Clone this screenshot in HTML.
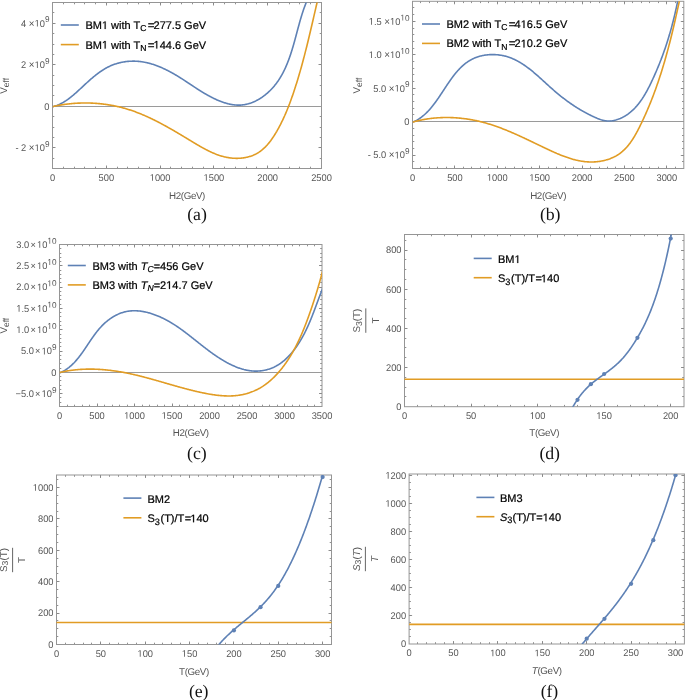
<!DOCTYPE html>
<html><head><meta charset="utf-8"><style>
html,body{margin:0;padding:0;background:#fff;}
body{width:685px;height:700px;overflow:hidden;}
svg{display:block;will-change:transform;}
text{text-rendering:geometricPrecision;}
.tl{font-family:"Liberation Sans",sans-serif;fill:#555555;}
.lg{font-family:"Liberation Sans",sans-serif;fill:#000;stroke:#000;stroke-width:0.22px;}
.al{font-family:"Liberation Sans",sans-serif;fill:#555555;font-size:9.8px;}
.xl{letter-spacing:-0.38px;}
.cp{font-family:"Liberation Serif",serif;fill:#111;font-size:17.8px;letter-spacing:-0.1px;}
.one{fill-opacity:0;stroke-opacity:0;}
</style></head><body>
<svg width="685" height="700" viewBox="0 0 685 700">
<defs>
<clipPath id="ca"><rect x="52.5" y="2.5" width="269" height="166"/></clipPath>
<clipPath id="cb"><rect x="412.5" y="1.3" width="271.3" height="167.2"/></clipPath>
<clipPath id="cc"><rect x="59.5" y="244.5" width="262.5" height="162"/></clipPath>
<clipPath id="cd"><rect x="404.5" y="234.5" width="279.5" height="172.2"/></clipPath>
<clipPath id="ce"><rect x="56.5" y="475" width="275" height="169.5"/></clipPath>
<clipPath id="cf"><rect x="409.1" y="474" width="275.3" height="170"/></clipPath>
</defs>
<path d="M63.5,168.5v-1.8 M63.5,2.5v1.8 M74.5,168.5v-1.8 M74.5,2.5v1.8 M84.5,168.5v-1.8 M84.5,2.5v1.8 M95.5,168.5v-1.8 M95.5,2.5v1.8 M106.5,168.5v-1.8 M106.5,2.5v1.8 M117.5,168.5v-1.8 M117.5,2.5v1.8 M127.5,168.5v-1.8 M127.5,2.5v1.8 M138.5,168.5v-1.8 M138.5,2.5v1.8 M149.5,168.5v-1.8 M149.5,2.5v1.8 M160.5,168.5v-1.8 M160.5,2.5v1.8 M170.5,168.5v-1.8 M170.5,2.5v1.8 M181.5,168.5v-1.8 M181.5,2.5v1.8 M192.5,168.5v-1.8 M192.5,2.5v1.8 M203.5,168.5v-1.8 M203.5,2.5v1.8 M213.5,168.5v-1.8 M213.5,2.5v1.8 M224.5,168.5v-1.8 M224.5,2.5v1.8 M235.5,168.5v-1.8 M235.5,2.5v1.8 M246.5,168.5v-1.8 M246.5,2.5v1.8 M256.5,168.5v-1.8 M256.5,2.5v1.8 M267.5,168.5v-1.8 M267.5,2.5v1.8 M278.5,168.5v-1.8 M278.5,2.5v1.8 M289.5,168.5v-1.8 M289.5,2.5v1.8 M299.5,168.5v-1.8 M299.5,2.5v1.8 M310.5,168.5v-1.8 M310.5,2.5v1.8 M106.5,168.5v-3 M106.5,2.5v3 M160.5,168.5v-3 M160.5,2.5v3 M213.5,168.5v-3 M213.5,2.5v3 M267.5,168.5v-3 M267.5,2.5v3 M52.5,158.5h1.8 M321.5,158.5h-1.8 M52.5,147.5h1.8 M321.5,147.5h-1.8 M52.5,137.5h1.8 M321.5,137.5h-1.8 M52.5,127.5h1.8 M321.5,127.5h-1.8 M52.5,116.5h1.8 M321.5,116.5h-1.8 M52.5,106.5h1.8 M321.5,106.5h-1.8 M52.5,95.5h1.8 M321.5,95.5h-1.8 M52.5,85.5h1.8 M321.5,85.5h-1.8 M52.5,75.5h1.8 M321.5,75.5h-1.8 M52.5,64.5h1.8 M321.5,64.5h-1.8 M52.5,54.5h1.8 M321.5,54.5h-1.8 M52.5,44.5h1.8 M321.5,44.5h-1.8 M52.5,33.5h1.8 M321.5,33.5h-1.8 M52.5,23.5h1.8 M321.5,23.5h-1.8 M52.5,12.5h1.8 M321.5,12.5h-1.8 M52.5,147.5h3 M321.5,147.5h-3 M52.5,106.5h3 M321.5,106.5h-3 M52.5,64.5h3 M321.5,64.5h-3 M52.5,23.5h3 M321.5,23.5h-3" stroke="#848484" stroke-width="0.9" fill="none"/>
<rect x="52.5" y="2.5" width="269" height="166" fill="none" stroke="#959595" stroke-width="1"/>
<line x1="52.5" y1="106.5" x2="321.5" y2="106.5" stroke="#9a9a9a" stroke-width="1"/>
<g clip-path="url(#ca)" fill="none" stroke-width="1.6"><path d="M52.88,106.67 L53.55,106.5 L54.21,106.31 L54.87,106.11 L55.52,105.9 L56.16,105.68 L56.8,105.45 L57.43,105.2 L58.06,104.95 L58.68,104.69 L59.3,104.41 L59.91,104.13 L60.51,103.84 L61.11,103.54 L61.71,103.23 L62.3,102.91 L62.89,102.58 L63.47,102.25 L64.05,101.9 L64.62,101.55 L65.19,101.19 L65.75,100.83 L66.31,100.45 L66.87,100.07 L67.43,99.69 L67.98,99.29 L68.53,98.89 L69.07,98.49 L69.61,98.08 L70.15,97.66 L70.69,97.24 L71.23,96.81 L71.76,96.38 L72.29,95.94 L72.82,95.5 L73.34,95.06 L73.87,94.61 L74.39,94.16 L74.92,93.7 L75.44,93.24 L75.96,92.78 L76.48,92.31 L76.99,91.84 L77.51,91.37 L78.03,90.9 L78.55,90.43 L79.06,89.95 L79.58,89.48 L80.1,89 L80.61,88.52 L81.13,88.04 L81.65,87.56 L82.16,87.08 L82.68,86.59 L83.2,86.11 L83.72,85.63 L84.24,85.15 L84.76,84.67 L85.28,84.19 L85.8,83.7 L86.32,83.23 L86.85,82.75 L87.37,82.27 L87.9,81.79 L88.42,81.32 L88.95,80.85 L89.48,80.38 L90.01,79.91 L90.54,79.44 L91.08,78.98 L91.61,78.51 L92.15,78.06 L92.69,77.6 L93.23,77.15 L93.77,76.7 L94.31,76.25 L94.86,75.81 L95.4,75.37 L95.95,74.93 L96.51,74.5 L97.06,74.08 L97.62,73.66 L98.17,73.24 L98.74,72.83 L99.3,72.42 L99.87,72.01 L100.43,71.62 L101.01,71.23 L101.58,70.84 L102.16,70.46 L102.74,70.09 L103.32,69.72 L103.91,69.36 L104.5,69 L105.09,68.65 L105.68,68.31 L106.28,67.98 L106.88,67.65 L107.49,67.33 L108.1,67.02 L108.71,66.71 L109.33,66.42 L109.95,66.13 L110.57,65.85 L111.2,65.58 L111.83,65.31 L112.47,65.06 L113.1,64.81 L113.75,64.57 L114.39,64.34 L115.04,64.11 L115.69,63.9 L116.34,63.69 L117,63.49 L117.65,63.3 L118.31,63.12 L118.98,62.95 L119.64,62.78 L120.31,62.62 L120.98,62.47 L121.65,62.33 L122.32,62.2 L123,62.07 L123.67,61.96 L124.35,61.85 L125.03,61.74 L125.71,61.65 L126.39,61.57 L127.08,61.49 L127.76,61.42 L128.45,61.36 L129.13,61.31 L129.82,61.26 L130.5,61.23 L131.19,61.2 L131.88,61.18 L132.57,61.16 L133.26,61.16 L133.94,61.16 L134.63,61.17 L135.32,61.19 L136.01,61.22 L136.69,61.26 L137.38,61.3 L138.07,61.35 L138.75,61.41 L139.43,61.48 L140.12,61.55 L140.8,61.64 L141.48,61.73 L142.16,61.83 L142.84,61.93 L143.52,62.05 L144.2,62.17 L144.87,62.29 L145.55,62.43 L146.22,62.57 L146.9,62.72 L147.57,62.88 L148.24,63.04 L148.91,63.21 L149.57,63.39 L150.24,63.57 L150.91,63.76 L151.57,63.95 L152.23,64.15 L152.9,64.36 L153.56,64.58 L154.21,64.79 L154.87,65.02 L155.53,65.25 L156.18,65.48 L156.84,65.73 L157.49,65.97 L158.14,66.22 L158.79,66.48 L159.43,66.74 L160.08,67.01 L160.72,67.28 L161.37,67.55 L162.01,67.83 L162.65,68.12 L163.29,68.41 L163.92,68.7 L164.56,69 L165.19,69.3 L165.82,69.61 L166.45,69.92 L167.08,70.23 L167.7,70.54 L168.33,70.86 L168.95,71.19 L169.57,71.51 L170.19,71.84 L170.81,72.18 L171.42,72.51 L172.04,72.85 L172.65,73.19 L173.26,73.54 L173.86,73.88 L174.47,74.23 L175.07,74.59 L175.67,74.94 L176.27,75.3 L176.87,75.65 L177.47,76.01 L178.06,76.37 L178.65,76.74 L179.24,77.1 L179.83,77.47 L180.41,77.84 L181,78.21 L181.58,78.58 L182.16,78.95 L182.74,79.33 L183.32,79.7 L183.9,80.08 L184.48,80.45 L185.06,80.83 L185.63,81.21 L186.21,81.59 L186.78,81.97 L187.36,82.35 L187.93,82.73 L188.51,83.11 L189.08,83.5 L189.66,83.88 L190.24,84.26 L190.81,84.64 L191.39,85.03 L191.96,85.41 L192.54,85.79 L193.12,86.18 L193.7,86.56 L194.28,86.94 L194.86,87.32 L195.45,87.7 L196.03,88.09 L196.62,88.47 L197.2,88.85 L197.79,89.22 L198.38,89.6 L198.98,89.98 L199.57,90.36 L200.17,90.73 L200.77,91.11 L201.37,91.48 L201.98,91.85 L202.58,92.22 L203.19,92.59 L203.81,92.96 L204.42,93.32 L205.04,93.69 L205.66,94.05 L206.28,94.4 L206.9,94.76 L207.52,95.11 L208.15,95.46 L208.78,95.81 L209.41,96.15 L210.04,96.49 L210.68,96.83 L211.31,97.16 L211.95,97.49 L212.59,97.81 L213.23,98.13 L213.87,98.44 L214.52,98.75 L215.16,99.05 L215.81,99.35 L216.46,99.65 L217.11,99.94 L217.76,100.22 L218.41,100.49 L219.06,100.76 L219.71,101.03 L220.36,101.29 L221.02,101.54 L221.67,101.78 L222.33,102.02 L222.98,102.25 L223.64,102.47 L224.3,102.69 L224.96,102.89 L225.61,103.09 L226.27,103.28 L226.93,103.47 L227.59,103.64 L228.25,103.81 L228.91,103.96 L229.57,104.11 L230.23,104.25 L230.89,104.38 L231.55,104.5 L232.2,104.61 L232.86,104.71 L233.52,104.8 L234.18,104.88 L234.84,104.95 L235.49,105.01 L236.15,105.06 L236.8,105.09 L237.46,105.12 L238.11,105.14 L238.77,105.14 L239.42,105.13 L240.07,105.11 L240.72,105.08 L241.37,105.03 L242.02,104.98 L242.67,104.91 L243.31,104.83 L243.96,104.73 L244.6,104.63 L245.24,104.51 L245.88,104.38 L246.52,104.24 L247.16,104.09 L247.79,103.93 L248.43,103.76 L249.06,103.57 L249.69,103.38 L250.31,103.17 L250.94,102.96 L251.56,102.73 L252.18,102.5 L252.79,102.25 L253.41,102 L254.02,101.73 L254.63,101.46 L255.23,101.17 L255.84,100.88 L256.43,100.58 L257.03,100.27 L257.62,99.95 L258.21,99.62 L258.8,99.28 L259.38,98.94 L259.96,98.58 L260.54,98.22 L261.11,97.85 L261.68,97.47 L262.24,97.09 L262.8,96.69 L263.35,96.29 L263.91,95.88 L264.45,95.47 L264.99,95.05 L265.53,94.62 L266.07,94.18 L266.6,93.74 L267.12,93.29 L267.64,92.84 L268.15,92.38 L268.66,91.91 L269.17,91.44 L269.67,90.96 L270.16,90.48 L270.65,89.99 L271.13,89.49 L271.61,88.99 L272.08,88.49 L272.55,87.98 L273.01,87.46 L273.46,86.94 L273.91,86.42 L274.35,85.89 L274.79,85.36 L275.22,84.82 L275.65,84.28 L276.06,83.74 L276.48,83.19 L276.89,82.64 L277.29,82.08 L277.68,81.52 L278.08,80.96 L278.46,80.39 L278.84,79.82 L279.22,79.24 L279.59,78.66 L279.95,78.08 L280.31,77.5 L280.67,76.91 L281.02,76.32 L281.36,75.72 L281.7,75.12 L282.04,74.52 L282.37,73.92 L282.69,73.31 L283.02,72.7 L283.33,72.08 L283.65,71.47 L283.96,70.85 L284.26,70.22 L284.56,69.6 L284.86,68.97 L285.15,68.34 L285.44,67.71 L285.73,67.08 L286.01,66.44 L286.28,65.8 L286.56,65.16 L286.83,64.51 L287.1,63.87 L287.36,63.22 L287.62,62.57 L287.88,61.91 L288.13,61.26 L288.38,60.6 L288.63,59.94 L288.87,59.28 L289.11,58.62 L289.35,57.96 L289.59,57.29 L289.82,56.63 L290.05,55.96 L290.28,55.29 L290.51,54.62 L290.73,53.95 L290.95,53.27 L291.17,52.6 L291.38,51.92 L291.6,51.24 L291.81,50.57 L292.02,49.89 L292.23,49.21 L292.43,48.53 L292.64,47.84 L292.84,47.16 L293.04,46.48 L293.24,45.79 L293.44,45.11 L293.64,44.43 L293.83,43.74 L294.02,43.05 L294.22,42.37 L294.41,41.68 L294.6,40.99 L294.79,40.31 L294.98,39.62 L295.16,38.93 L295.35,38.25 L295.54,37.56 L295.72,36.87 L295.91,36.19 L296.09,35.5 L296.27,34.81 L296.46,34.13 L296.64,33.44 L296.82,32.76 L297.01,32.07 L297.19,31.39 L297.37,30.7 L297.55,30.02 L297.74,29.34 L297.92,28.66 L298.1,27.98 L298.28,27.3 L298.47,26.62 L298.65,25.94 L298.84,25.26 L299.02,24.59 L299.21,23.91 L299.4,23.24 L299.58,22.57 L299.77,21.9 L299.96,21.23 L300.15,20.56 L300.34,19.89 L300.53,19.23 L300.73,18.57 L300.92,17.91 L301.12,17.25 L301.32,16.59 L301.52,15.93 L301.72,15.28 L301.92,14.63 L302.13,13.98 L302.33,13.33 L302.54,12.68 L302.75,12.04 L302.96,11.4 L303.18,10.76 L303.39,10.12 L303.61,9.49 L303.83,8.86 L304.05,8.23 L304.28,7.6 L304.51,6.98 L304.74,6.36 L304.97,5.74 L305.21,5.12 L305.45,4.51 L305.69,3.9 L305.93,3.29 L306.18,2.69 L306.43,2.09 L306.68,1.49 L306.94,0.9 L307.2,0.31" stroke="#5e81b5"/><path d="M52.61,106.62 L53.35,106.45 L54.1,106.29 L54.84,106.13 L55.59,105.97 L56.34,105.82 L57.1,105.67 L57.85,105.53 L58.6,105.39 L59.36,105.25 L60.12,105.12 L60.88,104.99 L61.64,104.86 L62.4,104.74 L63.16,104.63 L63.92,104.52 L64.68,104.41 L65.45,104.3 L66.22,104.2 L66.98,104.11 L67.75,104.01 L68.52,103.92 L69.29,103.84 L70.06,103.76 L70.83,103.68 L71.6,103.61 L72.37,103.54 L73.15,103.48 L73.92,103.42 L74.69,103.36 L75.47,103.31 L76.24,103.26 L77.02,103.21 L77.8,103.17 L78.57,103.14 L79.35,103.1 L80.13,103.08 L80.9,103.05 L81.68,103.03 L82.46,103.02 L83.24,103 L84.02,102.99 L84.8,102.99 L85.58,102.99 L86.35,102.99 L87.13,103 L87.91,103.01 L88.69,103.03 L89.47,103.05 L90.25,103.07 L91.03,103.1 L91.8,103.13 L92.58,103.17 L93.36,103.21 L94.14,103.25 L94.91,103.3 L95.69,103.35 L96.47,103.41 L97.24,103.47 L98.02,103.53 L98.79,103.6 L99.57,103.67 L100.34,103.75 L101.11,103.83 L101.89,103.91 L102.66,104 L103.43,104.09 L104.2,104.19 L104.97,104.29 L105.74,104.39 L106.5,104.5 L107.27,104.61 L108.04,104.73 L108.8,104.85 L109.57,104.98 L110.33,105.1 L111.09,105.24 L111.85,105.37 L112.61,105.52 L113.37,105.66 L114.13,105.81 L114.88,105.96 L115.64,106.12 L116.39,106.28 L117.14,106.45 L117.89,106.62 L118.64,106.79 L119.39,106.97 L120.14,107.15 L120.88,107.34 L121.62,107.53 L122.36,107.72 L123.1,107.92 L123.84,108.12 L124.58,108.33 L125.31,108.54 L126.05,108.75 L126.78,108.97 L127.51,109.19 L128.24,109.41 L128.97,109.64 L129.69,109.88 L130.42,110.11 L131.14,110.35 L131.86,110.6 L132.58,110.85 L133.3,111.1 L134.02,111.35 L134.74,111.61 L135.45,111.87 L136.16,112.14 L136.88,112.41 L137.59,112.68 L138.3,112.95 L139.01,113.23 L139.71,113.51 L140.42,113.8 L141.13,114.08 L141.83,114.38 L142.53,114.67 L143.24,114.97 L143.94,115.27 L144.64,115.57 L145.34,115.87 L146.03,116.18 L146.73,116.49 L147.43,116.81 L148.12,117.12 L148.82,117.44 L149.51,117.77 L150.2,118.09 L150.89,118.42 L151.58,118.75 L152.27,119.08 L152.96,119.42 L153.65,119.75 L154.34,120.09 L155.03,120.44 L155.71,120.78 L156.4,121.13 L157.08,121.48 L157.77,121.83 L158.45,122.18 L159.14,122.54 L159.82,122.89 L160.5,123.25 L161.18,123.61 L161.86,123.98 L162.54,124.34 L163.22,124.71 L163.9,125.08 L164.58,125.45 L165.26,125.82 L165.94,126.2 L166.62,126.57 L167.3,126.95 L167.97,127.33 L168.65,127.71 L169.33,128.1 L170,128.48 L170.68,128.87 L171.36,129.25 L172.03,129.64 L172.71,130.03 L173.38,130.42 L174.06,130.81 L174.73,131.21 L175.41,131.6 L176.08,132 L176.76,132.4 L177.43,132.79 L178.11,133.19 L178.78,133.59 L179.46,134 L180.13,134.4 L180.81,134.8 L181.48,135.2 L182.16,135.61 L182.83,136.01 L183.51,136.42 L184.18,136.83 L184.86,137.24 L185.54,137.64 L186.21,138.05 L186.89,138.46 L187.57,138.87 L188.24,139.28 L188.92,139.69 L189.6,140.1 L190.28,140.52 L190.96,140.93 L191.63,141.34 L192.31,141.75 L192.99,142.16 L193.67,142.57 L194.36,142.98 L195.04,143.39 L195.72,143.8 L196.4,144.2 L197.09,144.61 L197.77,145.01 L198.45,145.41 L199.14,145.81 L199.83,146.21 L200.52,146.6 L201.2,146.99 L201.89,147.38 L202.58,147.76 L203.28,148.14 L203.97,148.52 L204.66,148.89 L205.36,149.26 L206.05,149.63 L206.75,149.99 L207.45,150.34 L208.15,150.69 L208.85,151.04 L209.55,151.38 L210.26,151.71 L210.96,152.04 L211.67,152.36 L212.38,152.68 L213.09,152.99 L213.8,153.29 L214.51,153.59 L215.23,153.88 L215.94,154.16 L216.66,154.44 L217.38,154.7 L218.1,154.96 L218.83,155.21 L219.55,155.46 L220.28,155.69 L221.01,155.92 L221.74,156.14 L222.47,156.34 L223.21,156.54 L223.94,156.73 L224.68,156.91 L225.42,157.08 L226.17,157.24 L226.91,157.39 L227.66,157.53 L228.41,157.66 L229.17,157.78 L229.92,157.88 L230.67,157.98 L231.43,158.06 L232.19,158.14 L232.95,158.2 L233.7,158.25 L234.46,158.29 L235.22,158.32 L235.98,158.34 L236.74,158.34 L237.5,158.34 L238.25,158.32 L239.01,158.29 L239.76,158.25 L240.51,158.2 L241.26,158.13 L242.01,158.05 L242.76,157.97 L243.5,157.86 L244.24,157.75 L244.98,157.62 L245.71,157.48 L246.44,157.33 L247.17,157.17 L247.9,156.99 L248.61,156.8 L249.33,156.6 L250.04,156.38 L250.74,156.15 L251.44,155.91 L252.14,155.65 L252.83,155.39 L253.51,155.1 L254.19,154.81 L254.86,154.5 L255.53,154.18 L256.18,153.84 L256.83,153.49 L257.48,153.12 L258.12,152.74 L258.74,152.35 L259.36,151.94 L259.98,151.52 L260.58,151.09 L261.18,150.64 L261.77,150.18 L262.35,149.7 L262.92,149.21 L263.49,148.71 L264.05,148.2 L264.6,147.68 L265.15,147.15 L265.68,146.6 L266.21,146.05 L266.74,145.48 L267.25,144.91 L267.76,144.32 L268.27,143.73 L268.77,143.13 L269.26,142.52 L269.74,141.91 L270.22,141.28 L270.7,140.65 L271.16,140.01 L271.62,139.37 L272.08,138.72 L272.53,138.06 L272.98,137.4 L273.42,136.74 L273.85,136.07 L274.28,135.39 L274.71,134.72 L275.13,134.04 L275.54,133.35 L275.96,132.67 L276.36,131.98 L276.77,131.29 L277.16,130.59 L277.56,129.9 L277.95,129.21 L278.33,128.51 L278.72,127.81 L279.09,127.11 L279.47,126.41 L279.84,125.71 L280.2,125.01 L280.57,124.3 L280.93,123.6 L281.28,122.89 L281.63,122.18 L281.98,121.47 L282.33,120.76 L282.67,120.05 L283.01,119.34 L283.34,118.62 L283.67,117.91 L284,117.19 L284.32,116.48 L284.65,115.76 L284.96,115.04 L285.28,114.32 L285.59,113.6 L285.9,112.88 L286.21,112.16 L286.51,111.44 L286.81,110.71 L287.11,109.99 L287.41,109.26 L287.7,108.54 L287.99,107.81 L288.28,107.08 L288.56,106.36 L288.85,105.63 L289.13,104.9 L289.4,104.17 L289.68,103.44 L289.95,102.71 L290.22,101.98 L290.49,101.25 L290.76,100.52 L291.03,99.78 L291.29,99.05 L291.55,98.32 L291.81,97.59 L292.07,96.85 L292.32,96.12 L292.58,95.39 L292.83,94.65 L293.08,93.92 L293.33,93.19 L293.58,92.45 L293.82,91.72 L294.07,90.98 L294.31,90.25 L294.55,89.51 L294.79,88.78 L295.03,88.05 L295.27,87.31 L295.51,86.58 L295.74,85.84 L295.97,85.11 L296.21,84.37 L296.44,83.64 L296.67,82.9 L296.9,82.17 L297.12,81.43 L297.35,80.7 L297.58,79.96 L297.8,79.22 L298.02,78.49 L298.24,77.75 L298.46,77.02 L298.68,76.28 L298.9,75.54 L299.12,74.81 L299.33,74.07 L299.55,73.34 L299.76,72.6 L299.97,71.86 L300.18,71.12 L300.39,70.39 L300.6,69.65 L300.81,68.91 L301.02,68.17 L301.23,67.44 L301.43,66.7 L301.64,65.96 L301.84,65.22 L302.04,64.48 L302.24,63.75 L302.45,63.01 L302.65,62.27 L302.84,61.53 L303.04,60.79 L303.24,60.05 L303.44,59.31 L303.63,58.57 L303.83,57.83 L304.02,57.09 L304.22,56.35 L304.41,55.61 L304.6,54.87 L304.79,54.12 L304.98,53.38 L305.17,52.64 L305.36,51.9 L305.55,51.16 L305.74,50.41 L305.93,49.67 L306.12,48.93 L306.3,48.18 L306.49,47.44 L306.67,46.7 L306.86,45.95 L307.04,45.21 L307.23,44.46 L307.41,43.72 L307.59,42.97 L307.77,42.23 L307.96,41.48 L308.14,40.73 L308.32,39.99 L308.5,39.24 L308.68,38.49 L308.86,37.75 L309.04,37 L309.22,36.25 L309.4,35.5 L309.57,34.76 L309.75,34.01 L309.93,33.26 L310.11,32.51 L310.28,31.76 L310.46,31.01 L310.64,30.26 L310.81,29.51 L310.99,28.75 L311.17,28 L311.34,27.25 L311.52,26.5 L311.69,25.75 L311.87,24.99 L312.05,24.24 L312.22,23.49 L312.4,22.73 L312.57,21.98 L312.75,21.22 L312.92,20.47 L313.1,19.71 L313.27,18.96 L313.45,18.2 L313.62,17.44 L313.8,16.68 L313.97,15.93 L314.15,15.17 L314.32,14.41 L314.5,13.65 L314.67,12.89 L314.85,12.13 L315.02,11.37 L315.2,10.61 L315.37,9.85 L315.55,9.09 L315.73,8.33 L315.9,7.56 L316.08,6.8 L316.26,6.04 L316.43,5.27 L316.61,4.51 L316.79,3.75 L316.97,2.98 L317.14,2.22 L317.32,1.45 L317.5,0.68 L317.68,-0.08" stroke="#e19c24"/></g>
<text transform="translate(52.5,180.8) scale(1,1.04)" text-anchor="middle" class="tl" font-size="9.3">0</text>
<text transform="translate(106.3,180.8) scale(1,1.04)" text-anchor="middle" class="tl" font-size="9.3">500</text>
<text transform="translate(160.1,180.8) scale(1,1.04)" text-anchor="middle" class="tl" font-size="9.3"><tspan class="one">1</tspan>000</text>
<text transform="translate(213.9,180.8) scale(1,1.04)" text-anchor="middle" class="tl" font-size="9.3"><tspan class="one">1</tspan>500</text>
<text transform="translate(267.7,180.8) scale(1,1.04)" text-anchor="middle" class="tl" font-size="9.3">2000</text>
<text transform="translate(321.5,180.8) scale(1,1.04)" text-anchor="middle" class="tl" font-size="9.3">2500</text>
<text transform="translate(49.5,151.05) scale(1,1.04)" text-anchor="end" class="tl" font-size="9.3">- 2 <tspan font-size="9.8">×</tspan><tspan class="one">1</tspan>0<tspan dy="-4.0" font-size="8.2">9</tspan></text>
<text transform="translate(49.5,109.55) scale(1,1.04)" text-anchor="end" class="tl" font-size="9.3">0</text>
<text transform="translate(49.5,68.05) scale(1,1.04)" text-anchor="end" class="tl" font-size="9.3">2 <tspan font-size="9.8">×</tspan><tspan class="one">1</tspan>0<tspan dy="-4.0" font-size="8.2">9</tspan></text>
<text transform="translate(49.5,26.55) scale(1,1.04)" text-anchor="end" class="tl" font-size="9.3">4 <tspan font-size="9.8">×</tspan><tspan class="one">1</tspan>0<tspan dy="-4.0" font-size="8.2">9</tspan></text>
<path d="M420.5,168.5v-1.8 M420.5,1.3v1.8 M429.5,168.5v-1.8 M429.5,1.3v1.8 M437.5,168.5v-1.8 M437.5,1.3v1.8 M446.5,168.5v-1.8 M446.5,1.3v1.8 M454.5,168.5v-1.8 M454.5,1.3v1.8 M463.5,168.5v-1.8 M463.5,1.3v1.8 M471.5,168.5v-1.8 M471.5,1.3v1.8 M480.5,168.5v-1.8 M480.5,1.3v1.8 M488.5,168.5v-1.8 M488.5,1.3v1.8 M497.5,168.5v-1.8 M497.5,1.3v1.8 M505.5,168.5v-1.8 M505.5,1.3v1.8 M514.5,168.5v-1.8 M514.5,1.3v1.8 M522.5,168.5v-1.8 M522.5,1.3v1.8 M531.5,168.5v-1.8 M531.5,1.3v1.8 M539.5,168.5v-1.8 M539.5,1.3v1.8 M548.5,168.5v-1.8 M548.5,1.3v1.8 M556.5,168.5v-1.8 M556.5,1.3v1.8 M565.5,168.5v-1.8 M565.5,1.3v1.8 M573.5,168.5v-1.8 M573.5,1.3v1.8 M582.5,168.5v-1.8 M582.5,1.3v1.8 M590.5,168.5v-1.8 M590.5,1.3v1.8 M599.5,168.5v-1.8 M599.5,1.3v1.8 M607.5,168.5v-1.8 M607.5,1.3v1.8 M615.5,168.5v-1.8 M615.5,1.3v1.8 M624.5,168.5v-1.8 M624.5,1.3v1.8 M632.5,168.5v-1.8 M632.5,1.3v1.8 M641.5,168.5v-1.8 M641.5,1.3v1.8 M649.5,168.5v-1.8 M649.5,1.3v1.8 M658.5,168.5v-1.8 M658.5,1.3v1.8 M666.5,168.5v-1.8 M666.5,1.3v1.8 M675.5,168.5v-1.8 M675.5,1.3v1.8 M454.5,168.5v-3 M454.5,1.3v3 M497.5,168.5v-3 M497.5,1.3v3 M539.5,168.5v-3 M539.5,1.3v3 M582.5,168.5v-3 M582.5,1.3v3 M624.5,168.5v-3 M624.5,1.3v3 M666.5,168.5v-3 M666.5,1.3v3 M412.5,161.5h1.8 M683.8,161.5h-1.8 M412.5,155.5h1.8 M683.8,155.5h-1.8 M412.5,148.5h1.8 M683.8,148.5h-1.8 M412.5,141.5h1.8 M683.8,141.5h-1.8 M412.5,135.5h1.8 M683.8,135.5h-1.8 M412.5,128.5h1.8 M683.8,128.5h-1.8 M412.5,121.5h1.8 M683.8,121.5h-1.8 M412.5,114.5h1.8 M683.8,114.5h-1.8 M412.5,108.5h1.8 M683.8,108.5h-1.8 M412.5,101.5h1.8 M683.8,101.5h-1.8 M412.5,94.5h1.8 M683.8,94.5h-1.8 M412.5,88.5h1.8 M683.8,88.5h-1.8 M412.5,81.5h1.8 M683.8,81.5h-1.8 M412.5,74.5h1.8 M683.8,74.5h-1.8 M412.5,68.5h1.8 M683.8,68.5h-1.8 M412.5,61.5h1.8 M683.8,61.5h-1.8 M412.5,54.5h1.8 M683.8,54.5h-1.8 M412.5,48.5h1.8 M683.8,48.5h-1.8 M412.5,41.5h1.8 M683.8,41.5h-1.8 M412.5,34.5h1.8 M683.8,34.5h-1.8 M412.5,28.5h1.8 M683.8,28.5h-1.8 M412.5,21.5h1.8 M683.8,21.5h-1.8 M412.5,14.5h1.8 M683.8,14.5h-1.8 M412.5,7.5h1.8 M683.8,7.5h-1.8 M412.5,155.5h3 M683.8,155.5h-3 M412.5,121.5h3 M683.8,121.5h-3 M412.5,88.5h3 M683.8,88.5h-3 M412.5,54.5h3 M683.8,54.5h-3 M412.5,21.5h3 M683.8,21.5h-3" stroke="#848484" stroke-width="0.9" fill="none"/>
<rect x="412.5" y="1.3" width="271.3" height="167.2" fill="none" stroke="#959595" stroke-width="1"/>
<line x1="412.5" y1="121.5" x2="683.8" y2="121.5" stroke="#9a9a9a" stroke-width="1"/>
<g clip-path="url(#cb)" fill="none" stroke-width="1.6"><path d="M413.14,121.95 L413.83,121.66 L414.51,121.35 L415.18,121.03 L415.84,120.69 L416.5,120.35 L417.15,119.99 L417.79,119.61 L418.42,119.23 L419.05,118.83 L419.67,118.42 L420.28,118 L420.88,117.57 L421.48,117.13 L422.07,116.68 L422.66,116.21 L423.24,115.74 L423.81,115.26 L424.38,114.76 L424.94,114.26 L425.49,113.75 L426.04,113.23 L426.59,112.7 L427.13,112.16 L427.66,111.61 L428.19,111.06 L428.71,110.49 L429.23,109.92 L429.75,109.35 L430.26,108.76 L430.77,108.17 L431.27,107.57 L431.77,106.96 L432.27,106.35 L432.76,105.74 L433.25,105.11 L433.73,104.49 L434.21,103.85 L434.69,103.21 L435.17,102.57 L435.64,101.92 L436.11,101.27 L436.58,100.62 L437.05,99.96 L437.51,99.29 L437.97,98.63 L438.44,97.96 L438.89,97.28 L439.35,96.61 L439.81,95.93 L440.26,95.25 L440.72,94.57 L441.17,93.89 L441.62,93.2 L442.08,92.52 L442.53,91.83 L442.98,91.14 L443.43,90.46 L443.88,89.77 L444.33,89.08 L444.79,88.39 L445.24,87.71 L445.69,87.02 L446.14,86.34 L446.6,85.65 L447.05,84.97 L447.51,84.29 L447.97,83.61 L448.43,82.94 L448.89,82.26 L449.35,81.59 L449.82,80.92 L450.29,80.26 L450.76,79.6 L451.23,78.94 L451.7,78.28 L452.18,77.63 L452.66,76.99 L453.15,76.35 L453.63,75.71 L454.12,75.08 L454.62,74.45 L455.11,73.83 L455.61,73.22 L456.12,72.61 L456.63,72.01 L457.14,71.41 L457.66,70.83 L458.18,70.24 L458.71,69.67 L459.24,69.1 L459.78,68.54 L460.32,67.99 L460.86,67.45 L461.42,66.92 L461.98,66.39 L462.54,65.87 L463.11,65.37 L463.68,64.87 L464.27,64.38 L464.86,63.9 L465.45,63.43 L466.05,62.97 L466.66,62.53 L467.27,62.09 L467.9,61.66 L468.53,61.25 L469.16,60.85 L469.81,60.45 L470.46,60.08 L471.12,59.71 L471.79,59.35 L472.46,59.01 L473.15,58.69 L473.84,58.37 L474.54,58.07 L475.24,57.78 L475.96,57.5 L476.68,57.23 L477.4,56.98 L478.14,56.74 L478.87,56.52 L479.62,56.3 L480.37,56.1 L481.12,55.91 L481.88,55.74 L482.64,55.57 L483.41,55.42 L484.18,55.28 L484.95,55.16 L485.72,55.04 L486.5,54.94 L487.28,54.85 L488.07,54.78 L488.85,54.71 L489.64,54.66 L490.43,54.62 L491.22,54.59 L492.01,54.58 L492.8,54.57 L493.59,54.58 L494.38,54.6 L495.17,54.64 L495.96,54.68 L496.74,54.74 L497.53,54.81 L498.32,54.89 L499.1,54.98 L499.88,55.09 L500.66,55.2 L501.43,55.33 L502.2,55.47 L502.97,55.63 L503.74,55.79 L504.5,55.96 L505.25,56.15 L506.01,56.35 L506.75,56.56 L507.49,56.78 L508.23,57.02 L508.96,57.26 L509.69,57.52 L510.42,57.78 L511.14,58.06 L511.85,58.35 L512.56,58.64 L513.27,58.95 L513.97,59.27 L514.67,59.59 L515.37,59.93 L516.06,60.27 L516.74,60.62 L517.43,60.98 L518.11,61.35 L518.79,61.73 L519.46,62.12 L520.13,62.51 L520.79,62.91 L521.46,63.32 L522.12,63.74 L522.77,64.16 L523.43,64.59 L524.08,65.03 L524.73,65.47 L525.37,65.92 L526.02,66.38 L526.66,66.84 L527.29,67.31 L527.93,67.78 L528.56,68.26 L529.19,68.74 L529.82,69.23 L530.45,69.73 L531.07,70.22 L531.69,70.72 L532.31,71.23 L532.93,71.74 L533.55,72.25 L534.16,72.77 L534.78,73.29 L535.39,73.81 L536,74.34 L536.61,74.87 L537.22,75.4 L537.82,75.94 L538.43,76.47 L539.03,77.01 L539.63,77.55 L540.24,78.09 L540.84,78.63 L541.44,79.18 L542.04,79.72 L542.64,80.27 L543.23,80.81 L543.83,81.36 L544.43,81.9 L545.03,82.45 L545.63,83 L546.22,83.54 L546.82,84.09 L547.42,84.63 L548.01,85.17 L548.61,85.72 L549.21,86.26 L549.8,86.8 L550.4,87.33 L551,87.87 L551.6,88.4 L552.2,88.93 L552.8,89.46 L553.4,89.98 L554,90.51 L554.6,91.02 L555.21,91.54 L555.81,92.06 L556.42,92.57 L557.02,93.07 L557.63,93.58 L558.24,94.08 L558.85,94.58 L559.46,95.08 L560.07,95.57 L560.68,96.07 L561.3,96.55 L561.91,97.04 L562.53,97.52 L563.15,98 L563.76,98.48 L564.39,98.95 L565.01,99.42 L565.63,99.89 L566.26,100.36 L566.88,100.82 L567.51,101.28 L568.14,101.74 L568.77,102.19 L569.41,102.64 L570.04,103.09 L570.68,103.53 L571.32,103.97 L571.96,104.41 L572.6,104.85 L573.25,105.28 L573.9,105.71 L574.55,106.14 L575.2,106.56 L575.85,106.98 L576.51,107.4 L577.17,107.81 L577.83,108.22 L578.49,108.63 L579.15,109.04 L579.82,109.44 L580.49,109.84 L581.16,110.23 L581.84,110.62 L582.51,111.01 L583.19,111.4 L583.88,111.78 L584.56,112.16 L585.25,112.54 L585.94,112.91 L586.63,113.28 L587.33,113.65 L588.03,114.01 L588.73,114.37 L589.44,114.73 L590.15,115.08 L590.86,115.43 L591.57,115.78 L592.29,116.13 L593.01,116.47 L593.73,116.8 L594.46,117.14 L595.19,117.47 L595.92,117.79 L596.66,118.1 L597.4,118.41 L598.14,118.7 L598.88,118.98 L599.63,119.25 L600.38,119.51 L601.13,119.75 L601.89,119.97 L602.64,120.18 L603.4,120.37 L604.16,120.53 L604.93,120.68 L605.69,120.8 L606.46,120.89 L607.23,120.96 L608,121.01 L608.78,121.02 L609.55,121.01 L610.33,120.98 L611.1,120.92 L611.88,120.83 L612.65,120.72 L613.42,120.59 L614.19,120.43 L614.96,120.25 L615.72,120.06 L616.48,119.84 L617.23,119.6 L617.98,119.35 L618.72,119.08 L619.46,118.79 L620.19,118.49 L620.91,118.17 L621.63,117.84 L622.33,117.5 L623.03,117.14 L623.72,116.77 L624.39,116.39 L625.06,116 L625.72,115.59 L626.37,115.17 L627.02,114.75 L627.65,114.31 L628.28,113.86 L628.89,113.4 L629.5,112.93 L630.11,112.45 L630.7,111.96 L631.29,111.46 L631.86,110.95 L632.43,110.44 L633,109.91 L633.55,109.37 L634.1,108.83 L634.64,108.27 L635.18,107.71 L635.7,107.14 L636.22,106.56 L636.74,105.98 L637.24,105.38 L637.74,104.78 L638.24,104.17 L638.73,103.56 L639.21,102.94 L639.68,102.31 L640.15,101.68 L640.62,101.03 L641.08,100.39 L641.53,99.74 L641.97,99.08 L642.42,98.42 L642.85,97.75 L643.28,97.07 L643.71,96.4 L644.13,95.71 L644.55,95.03 L644.96,94.34 L645.37,93.64 L645.77,92.95 L646.17,92.24 L646.56,91.54 L646.95,90.83 L647.34,90.12 L647.72,89.41 L648.1,88.69 L648.47,87.97 L648.84,87.25 L649.21,86.53 L649.57,85.8 L649.93,85.08 L650.29,84.35 L650.64,83.62 L651,82.89 L651.34,82.16 L651.69,81.43 L652.03,80.7 L652.37,79.97 L652.71,79.24 L653.05,78.51 L653.38,77.78 L653.71,77.05 L654.04,76.32 L654.37,75.6 L654.69,74.87 L655.02,74.14 L655.34,73.41 L655.66,72.68 L655.97,71.96 L656.29,71.23 L656.6,70.5 L656.91,69.77 L657.22,69.05 L657.52,68.32 L657.82,67.59 L658.13,66.86 L658.42,66.14 L658.72,65.41 L659.02,64.68 L659.31,63.95 L659.6,63.23 L659.89,62.5 L660.18,61.77 L660.46,61.04 L660.74,60.32 L661.03,59.59 L661.3,58.86 L661.58,58.13 L661.86,57.4 L662.13,56.68 L662.4,55.95 L662.67,55.22 L662.94,54.49 L663.2,53.76 L663.47,53.03 L663.73,52.3 L663.99,51.57 L664.25,50.83 L664.5,50.1 L664.76,49.37 L665.01,48.64 L665.26,47.9 L665.51,47.17 L665.76,46.44 L666,45.7 L666.25,44.97 L666.49,44.23 L666.73,43.49 L666.97,42.76 L667.21,42.02 L667.44,41.28 L667.68,40.54 L667.91,39.8 L668.14,39.06 L668.37,38.32 L668.59,37.58 L668.82,36.83 L669.04,36.09 L669.26,35.35 L669.49,34.6 L669.7,33.85 L669.92,33.11 L670.14,32.36 L670.35,31.61 L670.56,30.86 L670.78,30.11 L670.99,29.36 L671.19,28.61 L671.4,27.85 L671.61,27.1 L671.81,26.34 L672.01,25.58 L672.21,24.83 L672.41,24.07 L672.61,23.31 L672.81,22.55 L673,21.78 L673.2,21.02 L673.39,20.25 L673.58,19.49 L673.77,18.72 L673.96,17.95 L674.14,17.18 L674.33,16.41 L674.51,15.64 L674.7,14.87 L674.88,14.09 L675.06,13.31 L675.24,12.54 L675.42,11.76 L675.59,10.98 L675.77,10.19 L675.94,9.41 L676.11,8.62 L676.29,7.84 L676.46,7.05 L676.63,6.26 L676.79,5.47 L676.96,4.67 L677.13,3.88 L677.29,3.08 L677.46,2.28 L677.62,1.48 L677.78,0.68 L677.94,-0.12" stroke="#5e81b5"/><path d="M412.59,122.13 L413.34,121.92 L414.08,121.72 L414.83,121.52 L415.57,121.32 L416.32,121.13 L417.07,120.95 L417.83,120.77 L418.58,120.6 L419.33,120.43 L420.09,120.26 L420.84,120.1 L421.6,119.95 L422.36,119.8 L423.12,119.65 L423.88,119.51 L424.64,119.38 L425.4,119.25 L426.16,119.12 L426.93,119 L427.69,118.89 L428.46,118.78 L429.22,118.67 L429.99,118.57 L430.76,118.47 L431.52,118.38 L432.29,118.29 L433.06,118.21 L433.83,118.13 L434.6,118.06 L435.37,117.99 L436.14,117.93 L436.92,117.87 L437.69,117.81 L438.46,117.76 L439.23,117.72 L440,117.68 L440.78,117.64 L441.55,117.61 L442.33,117.58 L443.1,117.56 L443.87,117.54 L444.65,117.53 L445.42,117.52 L446.2,117.51 L446.97,117.51 L447.74,117.52 L448.52,117.52 L449.29,117.54 L450.07,117.55 L450.84,117.58 L451.61,117.6 L452.39,117.63 L453.16,117.67 L453.93,117.71 L454.71,117.75 L455.48,117.8 L456.25,117.85 L457.02,117.91 L457.79,117.97 L458.56,118.03 L459.33,118.1 L460.1,118.17 L460.87,118.25 L461.64,118.33 L462.41,118.42 L463.18,118.51 L463.94,118.6 L464.71,118.7 L465.48,118.8 L466.24,118.9 L467,119.01 L467.77,119.13 L468.53,119.25 L469.29,119.37 L470.05,119.5 L470.81,119.63 L471.57,119.76 L472.32,119.9 L473.08,120.04 L473.84,120.19 L474.59,120.34 L475.34,120.49 L476.09,120.65 L476.85,120.81 L477.59,120.97 L478.34,121.14 L479.09,121.32 L479.83,121.49 L480.58,121.68 L481.32,121.86 L482.06,122.05 L482.8,122.24 L483.54,122.44 L484.28,122.63 L485.02,122.84 L485.75,123.04 L486.48,123.25 L487.22,123.47 L487.95,123.68 L488.68,123.9 L489.41,124.13 L490.14,124.35 L490.86,124.58 L491.59,124.81 L492.31,125.05 L493.04,125.29 L493.76,125.53 L494.48,125.77 L495.2,126.02 L495.92,126.27 L496.64,126.53 L497.36,126.78 L498.08,127.04 L498.8,127.3 L499.51,127.57 L500.23,127.83 L500.94,128.1 L501.65,128.37 L502.37,128.65 L503.08,128.92 L503.79,129.2 L504.5,129.48 L505.21,129.77 L505.92,130.05 L506.63,130.34 L507.34,130.63 L508.04,130.92 L508.75,131.21 L509.46,131.51 L510.16,131.81 L510.87,132.11 L511.57,132.41 L512.28,132.71 L512.98,133.02 L513.69,133.33 L514.39,133.63 L515.09,133.94 L515.8,134.26 L516.5,134.57 L517.2,134.88 L517.9,135.2 L518.6,135.52 L519.31,135.84 L520.01,136.16 L520.71,136.48 L521.41,136.8 L522.11,137.12 L522.81,137.45 L523.51,137.78 L524.21,138.1 L524.91,138.43 L525.61,138.76 L526.31,139.09 L527.01,139.42 L527.71,139.75 L528.41,140.08 L529.11,140.42 L529.81,140.75 L530.51,141.08 L531.21,141.42 L531.92,141.75 L532.62,142.09 L533.32,142.43 L534.02,142.76 L534.72,143.1 L535.42,143.44 L536.13,143.78 L536.83,144.11 L537.53,144.45 L538.23,144.79 L538.94,145.13 L539.64,145.47 L540.35,145.8 L541.05,146.14 L541.76,146.48 L542.46,146.82 L543.17,147.15 L543.87,147.49 L544.58,147.83 L545.29,148.17 L546,148.5 L546.71,148.84 L547.42,149.17 L548.13,149.51 L548.84,149.84 L549.55,150.17 L550.26,150.5 L550.97,150.83 L551.69,151.16 L552.4,151.48 L553.12,151.81 L553.83,152.13 L554.55,152.44 L555.26,152.76 L555.98,153.07 L556.7,153.39 L557.42,153.69 L558.14,154 L558.86,154.3 L559.58,154.6 L560.3,154.89 L561.02,155.18 L561.75,155.47 L562.47,155.75 L563.19,156.03 L563.92,156.31 L564.65,156.58 L565.37,156.84 L566.1,157.1 L566.83,157.36 L567.56,157.61 L568.29,157.85 L569.02,158.09 L569.75,158.33 L570.49,158.56 L571.22,158.78 L571.96,159 L572.69,159.21 L573.43,159.41 L574.17,159.61 L574.91,159.8 L575.64,159.98 L576.39,160.16 L577.13,160.33 L577.87,160.49 L578.61,160.65 L579.36,160.79 L580.1,160.93 L580.85,161.06 L581.6,161.19 L582.35,161.3 L583.09,161.41 L583.85,161.51 L584.6,161.6 L585.35,161.68 L586.1,161.75 L586.86,161.81 L587.61,161.87 L588.37,161.91 L589.13,161.94 L589.89,161.97 L590.65,161.98 L591.41,161.99 L592.17,161.98 L592.94,161.96 L593.7,161.94 L594.47,161.9 L595.23,161.85 L596,161.79 L596.76,161.72 L597.53,161.64 L598.29,161.55 L599.06,161.45 L599.82,161.34 L600.58,161.22 L601.34,161.08 L602.09,160.94 L602.85,160.78 L603.6,160.62 L604.34,160.44 L605.09,160.25 L605.83,160.06 L606.57,159.85 L607.3,159.63 L608.03,159.39 L608.75,159.15 L609.47,158.9 L610.19,158.63 L610.9,158.36 L611.6,158.07 L612.3,157.77 L612.99,157.46 L613.67,157.14 L614.35,156.81 L615.02,156.46 L615.68,156.11 L616.34,155.74 L616.98,155.36 L617.62,154.97 L618.25,154.57 L618.88,154.16 L619.49,153.74 L620.09,153.3 L620.69,152.85 L621.27,152.4 L621.85,151.93 L622.42,151.45 L622.97,150.96 L623.53,150.46 L624.07,149.95 L624.6,149.43 L625.13,148.9 L625.65,148.36 L626.16,147.81 L626.66,147.26 L627.16,146.69 L627.65,146.12 L628.13,145.54 L628.61,144.95 L629.08,144.36 L629.54,143.76 L630,143.15 L630.45,142.53 L630.89,141.91 L631.33,141.28 L631.76,140.64 L632.19,140 L632.61,139.36 L633.03,138.7 L633.44,138.05 L633.85,137.39 L634.25,136.72 L634.65,136.05 L635.04,135.37 L635.43,134.7 L635.82,134.01 L636.2,133.33 L636.58,132.64 L636.95,131.95 L637.32,131.26 L637.69,130.56 L638.05,129.86 L638.41,129.16 L638.77,128.46 L639.13,127.76 L639.48,127.05 L639.83,126.35 L640.18,125.64 L640.53,124.94 L640.87,124.23 L641.22,123.52 L641.56,122.82 L641.9,122.11 L642.23,121.4 L642.57,120.69 L642.9,119.98 L643.23,119.27 L643.56,118.56 L643.89,117.85 L644.22,117.14 L644.54,116.43 L644.86,115.72 L645.18,115.01 L645.5,114.3 L645.82,113.59 L646.13,112.88 L646.45,112.16 L646.76,111.45 L647.07,110.74 L647.38,110.02 L647.68,109.31 L647.99,108.59 L648.29,107.88 L648.59,107.17 L648.89,106.45 L649.19,105.73 L649.48,105.02 L649.78,104.3 L650.07,103.58 L650.36,102.87 L650.65,102.15 L650.94,101.43 L651.23,100.71 L651.51,100 L651.79,99.28 L652.07,98.56 L652.35,97.84 L652.63,97.12 L652.91,96.4 L653.18,95.68 L653.46,94.96 L653.73,94.24 L654,93.52 L654.27,92.79 L654.54,92.07 L654.8,91.35 L655.07,90.63 L655.33,89.9 L655.6,89.18 L655.86,88.46 L656.11,87.73 L656.37,87.01 L656.63,86.28 L656.88,85.56 L657.14,84.83 L657.39,84.11 L657.64,83.38 L657.89,82.65 L658.14,81.93 L658.38,81.2 L658.63,80.47 L658.87,79.74 L659.12,79.01 L659.36,78.29 L659.6,77.56 L659.84,76.83 L660.07,76.1 L660.31,75.37 L660.55,74.64 L660.78,73.91 L661.01,73.18 L661.25,72.45 L661.48,71.71 L661.7,70.98 L661.93,70.25 L662.16,69.52 L662.39,68.79 L662.61,68.05 L662.83,67.32 L663.06,66.58 L663.28,65.85 L663.5,65.12 L663.72,64.38 L663.93,63.65 L664.15,62.91 L664.37,62.17 L664.58,61.44 L664.8,60.7 L665.01,59.97 L665.22,59.23 L665.43,58.49 L665.64,57.75 L665.85,57.02 L666.06,56.28 L666.26,55.54 L666.47,54.8 L666.67,54.06 L666.88,53.32 L667.08,52.58 L667.28,51.84 L667.48,51.1 L667.68,50.36 L667.88,49.62 L668.08,48.88 L668.28,48.13 L668.48,47.39 L668.67,46.65 L668.87,45.91 L669.06,45.16 L669.25,44.42 L669.45,43.68 L669.64,42.93 L669.83,42.19 L670.02,41.44 L670.21,40.7 L670.4,39.95 L670.59,39.21 L670.77,38.46 L670.96,37.71 L671.15,36.97 L671.33,36.22 L671.52,35.47 L671.7,34.72 L671.88,33.98 L672.07,33.23 L672.25,32.48 L672.43,31.73 L672.61,30.98 L672.79,30.23 L672.97,29.48 L673.15,28.73 L673.33,27.98 L673.5,27.23 L673.68,26.48 L673.86,25.73 L674.03,24.98 L674.21,24.22 L674.38,23.47 L674.56,22.72 L674.73,21.97 L674.9,21.21 L675.08,20.46 L675.25,19.71 L675.42,18.95 L675.59,18.2 L675.76,17.44 L675.93,16.69 L676.11,15.93 L676.27,15.18 L676.44,14.42 L676.61,13.66 L676.78,12.91 L676.95,12.15 L677.12,11.39 L677.29,10.64 L677.45,9.88 L677.62,9.12 L677.79,8.36 L677.95,7.6 L678.12,6.84 L678.28,6.08 L678.45,5.32 L678.61,4.56 L678.78,3.8 L678.94,3.04 L679.11,2.28 L679.27,1.52 L679.44,0.76 L679.6,-0" stroke="#e19c24"/></g>
<text transform="translate(412.5,180.8) scale(1,1.04)" text-anchor="middle" class="tl" font-size="9.3">0</text>
<text transform="translate(454.89,180.8) scale(1,1.04)" text-anchor="middle" class="tl" font-size="9.3">500</text>
<text transform="translate(497.28,180.8) scale(1,1.04)" text-anchor="middle" class="tl" font-size="9.3"><tspan class="one">1</tspan>000</text>
<text transform="translate(539.67,180.8) scale(1,1.04)" text-anchor="middle" class="tl" font-size="9.3"><tspan class="one">1</tspan>500</text>
<text transform="translate(582.06,180.8) scale(1,1.04)" text-anchor="middle" class="tl" font-size="9.3">2000</text>
<text transform="translate(624.45,180.8) scale(1,1.04)" text-anchor="middle" class="tl" font-size="9.3">2500</text>
<text transform="translate(666.84,180.8) scale(1,1.04)" text-anchor="middle" class="tl" font-size="9.3">3000</text>
<text transform="translate(409.5,158.42) scale(1,1.04)" text-anchor="end" class="tl" font-size="9.3">- 5.0 <tspan font-size="9.8">×</tspan><tspan class="one">1</tspan>0<tspan dy="-4.0" font-size="8.2">9</tspan></text>
<text transform="translate(409.5,124.98) scale(1,1.04)" text-anchor="end" class="tl" font-size="9.3">0</text>
<text transform="translate(409.5,91.54) scale(1,1.04)" text-anchor="end" class="tl" font-size="9.3">5.0 <tspan font-size="9.8">×</tspan><tspan class="one">1</tspan>0<tspan dy="-4.0" font-size="8.2">9</tspan></text>
<text transform="translate(409.5,58.1) scale(1,1.04)" text-anchor="end" class="tl" font-size="9.3"><tspan class="one">1</tspan>.0 <tspan font-size="9.8">×</tspan><tspan class="one">1</tspan>0<tspan dy="-4.0" font-size="8.2"><tspan class="one">1</tspan>0</tspan></text>
<text transform="translate(409.5,24.66) scale(1,1.04)" text-anchor="end" class="tl" font-size="9.3"><tspan class="one">1</tspan>.5 <tspan font-size="9.8">×</tspan><tspan class="one">1</tspan>0<tspan dy="-4.0" font-size="8.2"><tspan class="one">1</tspan>0</tspan></text>
<path d="M67.5,406.5v-1.8 M67.5,244.5v1.8 M74.5,406.5v-1.8 M74.5,244.5v1.8 M82.5,406.5v-1.8 M82.5,244.5v1.8 M89.5,406.5v-1.8 M89.5,244.5v1.8 M97.5,406.5v-1.8 M97.5,244.5v1.8 M104.5,406.5v-1.8 M104.5,244.5v1.8 M112.5,406.5v-1.8 M112.5,244.5v1.8 M119.5,406.5v-1.8 M119.5,244.5v1.8 M127.5,406.5v-1.8 M127.5,244.5v1.8 M134.5,406.5v-1.8 M134.5,244.5v1.8 M142.5,406.5v-1.8 M142.5,244.5v1.8 M149.5,406.5v-1.8 M149.5,244.5v1.8 M157.5,406.5v-1.8 M157.5,244.5v1.8 M164.5,406.5v-1.8 M164.5,244.5v1.8 M172.5,406.5v-1.8 M172.5,244.5v1.8 M179.5,406.5v-1.8 M179.5,244.5v1.8 M187.5,406.5v-1.8 M187.5,244.5v1.8 M194.5,406.5v-1.8 M194.5,244.5v1.8 M202.5,406.5v-1.8 M202.5,244.5v1.8 M209.5,406.5v-1.8 M209.5,244.5v1.8 M217.5,406.5v-1.8 M217.5,244.5v1.8 M224.5,406.5v-1.8 M224.5,244.5v1.8 M232.5,406.5v-1.8 M232.5,244.5v1.8 M239.5,406.5v-1.8 M239.5,244.5v1.8 M247.5,406.5v-1.8 M247.5,244.5v1.8 M254.5,406.5v-1.8 M254.5,244.5v1.8 M262.5,406.5v-1.8 M262.5,244.5v1.8 M269.5,406.5v-1.8 M269.5,244.5v1.8 M277.5,406.5v-1.8 M277.5,244.5v1.8 M284.5,406.5v-1.8 M284.5,244.5v1.8 M292.5,406.5v-1.8 M292.5,244.5v1.8 M299.5,406.5v-1.8 M299.5,244.5v1.8 M307.5,406.5v-1.8 M307.5,244.5v1.8 M314.5,406.5v-1.8 M314.5,244.5v1.8 M97.5,406.5v-3 M97.5,244.5v3 M134.5,406.5v-3 M134.5,244.5v3 M172.5,406.5v-3 M172.5,244.5v3 M209.5,406.5v-3 M209.5,244.5v3 M247.5,406.5v-3 M247.5,244.5v3 M284.5,406.5v-3 M284.5,244.5v3 M59.5,402.5h1.8 M322,402.5h-1.8 M59.5,397.5h1.8 M322,397.5h-1.8 M59.5,393.5h1.8 M322,393.5h-1.8 M59.5,389.5h1.8 M322,389.5h-1.8 M59.5,385.5h1.8 M322,385.5h-1.8 M59.5,380.5h1.8 M322,380.5h-1.8 M59.5,376.5h1.8 M322,376.5h-1.8 M59.5,372.5h1.8 M322,372.5h-1.8 M59.5,368.5h1.8 M322,368.5h-1.8 M59.5,363.5h1.8 M322,363.5h-1.8 M59.5,359.5h1.8 M322,359.5h-1.8 M59.5,355.5h1.8 M322,355.5h-1.8 M59.5,351.5h1.8 M322,351.5h-1.8 M59.5,346.5h1.8 M322,346.5h-1.8 M59.5,342.5h1.8 M322,342.5h-1.8 M59.5,338.5h1.8 M322,338.5h-1.8 M59.5,334.5h1.8 M322,334.5h-1.8 M59.5,329.5h1.8 M322,329.5h-1.8 M59.5,325.5h1.8 M322,325.5h-1.8 M59.5,321.5h1.8 M322,321.5h-1.8 M59.5,316.5h1.8 M322,316.5h-1.8 M59.5,312.5h1.8 M322,312.5h-1.8 M59.5,308.5h1.8 M322,308.5h-1.8 M59.5,304.5h1.8 M322,304.5h-1.8 M59.5,299.5h1.8 M322,299.5h-1.8 M59.5,295.5h1.8 M322,295.5h-1.8 M59.5,291.5h1.8 M322,291.5h-1.8 M59.5,287.5h1.8 M322,287.5h-1.8 M59.5,282.5h1.8 M322,282.5h-1.8 M59.5,278.5h1.8 M322,278.5h-1.8 M59.5,274.5h1.8 M322,274.5h-1.8 M59.5,270.5h1.8 M322,270.5h-1.8 M59.5,265.5h1.8 M322,265.5h-1.8 M59.5,261.5h1.8 M322,261.5h-1.8 M59.5,257.5h1.8 M322,257.5h-1.8 M59.5,253.5h1.8 M322,253.5h-1.8 M59.5,248.5h1.8 M322,248.5h-1.8 M59.5,393.5h3 M322,393.5h-3 M59.5,372.5h3 M322,372.5h-3 M59.5,351.5h3 M322,351.5h-3 M59.5,329.5h3 M322,329.5h-3 M59.5,308.5h3 M322,308.5h-3 M59.5,287.5h3 M322,287.5h-3 M59.5,265.5h3 M322,265.5h-3" stroke="#848484" stroke-width="0.9" fill="none"/>
<rect x="59.5" y="244.5" width="262.5" height="162" fill="none" stroke="#959595" stroke-width="1"/>
<line x1="59.5" y1="372.5" x2="322" y2="372.5" stroke="#9a9a9a" stroke-width="1"/>
<g clip-path="url(#cc)" fill="none" stroke-width="1.6"><path d="M59.92,372.81 L60.57,372.53 L61.21,372.23 L61.85,371.93 L62.47,371.62 L63.09,371.29 L63.69,370.96 L64.29,370.61 L64.89,370.26 L65.47,369.9 L66.05,369.52 L66.61,369.14 L67.18,368.75 L67.73,368.35 L68.28,367.94 L68.82,367.53 L69.35,367.1 L69.88,366.67 L70.4,366.23 L70.92,365.78 L71.43,365.32 L71.93,364.86 L72.43,364.39 L72.92,363.91 L73.41,363.43 L73.89,362.93 L74.37,362.44 L74.84,361.93 L75.31,361.42 L75.77,360.91 L76.23,360.39 L76.68,359.86 L77.13,359.33 L77.58,358.79 L78.02,358.25 L78.46,357.71 L78.9,357.16 L79.33,356.6 L79.76,356.04 L80.19,355.48 L80.61,354.91 L81.03,354.34 L81.45,353.77 L81.87,353.19 L82.28,352.61 L82.69,352.03 L83.11,351.44 L83.51,350.85 L83.92,350.26 L84.33,349.67 L84.73,349.08 L85.14,348.48 L85.54,347.88 L85.94,347.29 L86.35,346.69 L86.75,346.08 L87.15,345.48 L87.55,344.88 L87.96,344.28 L88.36,343.68 L88.76,343.07 L89.16,342.47 L89.57,341.87 L89.97,341.27 L90.38,340.67 L90.79,340.07 L91.2,339.47 L91.61,338.87 L92.02,338.27 L92.44,337.68 L92.85,337.09 L93.27,336.49 L93.69,335.91 L94.12,335.32 L94.54,334.74 L94.97,334.16 L95.41,333.58 L95.84,333 L96.28,332.43 L96.72,331.87 L97.17,331.3 L97.62,330.74 L98.08,330.19 L98.53,329.63 L99,329.09 L99.46,328.55 L99.94,328.01 L100.41,327.48 L100.9,326.95 L101.38,326.43 L101.88,325.91 L102.37,325.4 L102.88,324.89 L103.39,324.4 L103.9,323.9 L104.42,323.42 L104.95,322.94 L105.48,322.47 L106.02,322 L106.56,321.54 L107.11,321.09 L107.66,320.65 L108.21,320.21 L108.78,319.78 L109.34,319.36 L109.91,318.95 L110.49,318.55 L111.07,318.15 L111.65,317.76 L112.24,317.38 L112.84,317.01 L113.43,316.65 L114.04,316.3 L114.64,315.96 L115.25,315.63 L115.87,315.3 L116.48,314.99 L117.1,314.69 L117.73,314.39 L118.36,314.11 L118.99,313.84 L119.63,313.57 L120.27,313.32 L120.91,313.08 L121.55,312.85 L122.2,312.64 L122.85,312.43 L123.51,312.23 L124.17,312.05 L124.83,311.88 L125.49,311.72 L126.16,311.57 L126.83,311.44 L127.5,311.31 L128.17,311.2 L128.85,311.11 L129.53,311.02 L130.21,310.95 L130.89,310.88 L131.57,310.83 L132.26,310.8 L132.95,310.77 L133.64,310.75 L134.33,310.75 L135.02,310.75 L135.71,310.77 L136.41,310.79 L137.1,310.83 L137.8,310.88 L138.49,310.93 L139.19,311 L139.89,311.08 L140.59,311.16 L141.28,311.26 L141.98,311.36 L142.68,311.48 L143.38,311.6 L144.08,311.73 L144.77,311.87 L145.47,312.02 L146.17,312.18 L146.86,312.34 L147.56,312.52 L148.25,312.7 L148.95,312.88 L149.64,313.08 L150.33,313.28 L151.02,313.49 L151.71,313.71 L152.39,313.93 L153.08,314.17 L153.76,314.4 L154.44,314.65 L155.12,314.9 L155.8,315.15 L156.47,315.41 L157.14,315.68 L157.81,315.95 L158.48,316.23 L159.14,316.52 L159.81,316.8 L160.46,317.1 L161.12,317.4 L161.77,317.7 L162.42,318.01 L163.07,318.32 L163.71,318.63 L164.35,318.95 L164.98,319.28 L165.61,319.6 L166.24,319.94 L166.86,320.27 L167.49,320.61 L168.1,320.95 L168.72,321.3 L169.33,321.65 L169.94,322 L170.55,322.36 L171.15,322.72 L171.75,323.08 L172.35,323.45 L172.95,323.81 L173.54,324.19 L174.13,324.56 L174.72,324.94 L175.31,325.32 L175.89,325.71 L176.48,326.09 L177.06,326.48 L177.63,326.87 L178.21,327.27 L178.79,327.66 L179.36,328.06 L179.93,328.47 L180.5,328.87 L181.07,329.28 L181.64,329.68 L182.2,330.09 L182.77,330.51 L183.33,330.92 L183.89,331.34 L184.45,331.75 L185.01,332.17 L185.57,332.6 L186.13,333.02 L186.68,333.44 L187.24,333.87 L187.8,334.3 L188.35,334.73 L188.91,335.16 L189.46,335.59 L190.01,336.02 L190.57,336.46 L191.12,336.89 L191.67,337.33 L192.23,337.76 L192.78,338.2 L193.33,338.64 L193.89,339.08 L194.44,339.52 L194.99,339.96 L195.55,340.4 L196.1,340.84 L196.66,341.28 L197.21,341.73 L197.77,342.17 L198.33,342.61 L198.88,343.05 L199.44,343.5 L200,343.94 L200.56,344.38 L201.12,344.83 L201.69,345.27 L202.25,345.71 L202.81,346.15 L203.38,346.6 L203.95,347.04 L204.52,347.48 L205.09,347.92 L205.66,348.36 L206.24,348.8 L206.81,349.24 L207.39,349.67 L207.97,350.11 L208.55,350.55 L209.14,350.98 L209.72,351.41 L210.31,351.85 L210.9,352.28 L211.49,352.71 L212.09,353.13 L212.69,353.56 L213.28,353.99 L213.89,354.41 L214.49,354.83 L215.09,355.25 L215.7,355.66 L216.31,356.08 L216.92,356.49 L217.53,356.89 L218.15,357.3 L218.76,357.7 L219.38,358.1 L220,358.49 L220.62,358.88 L221.24,359.27 L221.87,359.66 L222.49,360.04 L223.12,360.41 L223.75,360.79 L224.38,361.15 L225.02,361.52 L225.65,361.88 L226.29,362.23 L226.92,362.58 L227.56,362.92 L228.2,363.26 L228.84,363.6 L229.49,363.93 L230.13,364.25 L230.78,364.57 L231.42,364.88 L232.07,365.18 L232.72,365.48 L233.37,365.78 L234.03,366.07 L234.68,366.35 L235.33,366.62 L235.99,366.89 L236.65,367.15 L237.3,367.4 L237.96,367.65 L238.62,367.89 L239.28,368.12 L239.95,368.35 L240.61,368.56 L241.27,368.77 L241.94,368.97 L242.6,369.17 L243.27,369.35 L243.94,369.53 L244.61,369.69 L245.27,369.85 L245.94,370 L246.61,370.15 L247.29,370.28 L247.96,370.4 L248.63,370.52 L249.3,370.62 L249.98,370.72 L250.65,370.8 L251.33,370.88 L252,370.95 L252.68,371 L253.36,371.05 L254.03,371.08 L254.71,371.11 L255.39,371.12 L256.07,371.12 L256.75,371.12 L257.43,371.1 L258.11,371.07 L258.78,371.03 L259.46,370.98 L260.14,370.92 L260.82,370.85 L261.49,370.76 L262.17,370.67 L262.84,370.56 L263.51,370.45 L264.19,370.32 L264.85,370.18 L265.52,370.04 L266.19,369.88 L266.85,369.71 L267.51,369.53 L268.17,369.34 L268.82,369.14 L269.47,368.93 L270.12,368.7 L270.76,368.47 L271.4,368.23 L272.04,367.97 L272.67,367.71 L273.3,367.43 L273.93,367.15 L274.55,366.85 L275.16,366.54 L275.78,366.23 L276.38,365.9 L276.98,365.56 L277.58,365.21 L278.17,364.85 L278.76,364.49 L279.34,364.11 L279.92,363.72 L280.49,363.33 L281.06,362.92 L281.62,362.51 L282.18,362.09 L282.73,361.66 L283.28,361.22 L283.82,360.77 L284.36,360.32 L284.9,359.86 L285.43,359.39 L285.95,358.91 L286.47,358.43 L286.99,357.93 L287.5,357.44 L288,356.93 L288.5,356.42 L289,355.9 L289.49,355.38 L289.98,354.85 L290.46,354.32 L290.94,353.77 L291.41,353.23 L291.88,352.68 L292.35,352.12 L292.8,351.56 L293.26,350.99 L293.71,350.42 L294.15,349.85 L294.6,349.27 L295.03,348.69 L295.46,348.1 L295.89,347.51 L296.31,346.92 L296.73,346.32 L297.14,345.72 L297.55,345.12 L297.95,344.51 L298.35,343.9 L298.75,343.29 L299.14,342.68 L299.52,342.06 L299.91,341.45 L300.28,340.83 L300.65,340.21 L301.02,339.59 L301.39,338.96 L301.75,338.33 L302.1,337.71 L302.45,337.08 L302.8,336.45 L303.15,335.81 L303.49,335.18 L303.82,334.54 L304.16,333.91 L304.48,333.27 L304.81,332.63 L305.13,331.98 L305.45,331.34 L305.77,330.7 L306.08,330.05 L306.39,329.41 L306.7,328.76 L307,328.11 L307.3,327.46 L307.6,326.81 L307.89,326.16 L308.19,325.51 L308.48,324.85 L308.76,324.2 L309.05,323.54 L309.33,322.89 L309.61,322.23 L309.89,321.58 L310.16,320.92 L310.44,320.26 L310.71,319.6 L310.98,318.94 L311.24,318.28 L311.51,317.63 L311.77,316.97 L312.03,316.31 L312.3,315.65 L312.55,314.98 L312.81,314.32 L313.07,313.66 L313.32,313 L313.58,312.34 L313.83,311.68 L314.08,311.02 L314.33,310.36 L314.58,309.7 L314.83,309.04 L315.07,308.38 L315.32,307.72 L315.57,307.06 L315.81,306.4 L316.06,305.74 L316.3,305.09 L316.54,304.43 L316.79,303.77 L317.03,303.12 L317.27,302.46 L317.52,301.81 L317.76,301.15 L318,300.5 L318.25,299.85 L318.49,299.2 L318.73,298.55 L318.98,297.9 L319.22,297.25 L319.46,296.6 L319.71,295.95 L319.95,295.31 L320.2,294.66 L320.45,294.02 L320.7,293.38 L320.94,292.74 L321.19,292.1 L321.45,291.46 L321.7,290.83 L321.95,290.19 L322.2,289.56 L322.46,288.93 L322.72,288.3" stroke="#5e81b5"/><path d="M59.49,372.55 L60.17,372.39 L60.84,372.24 L61.52,372.09 L62.19,371.94 L62.87,371.8 L63.54,371.66 L64.22,371.52 L64.9,371.39 L65.58,371.26 L66.25,371.14 L66.93,371.02 L67.61,370.91 L68.29,370.8 L68.97,370.69 L69.65,370.58 L70.33,370.48 L71.01,370.39 L71.69,370.3 L72.37,370.21 L73.05,370.12 L73.73,370.04 L74.41,369.96 L75.09,369.89 L75.78,369.82 L76.46,369.75 L77.14,369.68 L77.82,369.62 L78.51,369.57 L79.19,369.51 L79.87,369.46 L80.55,369.42 L81.24,369.38 L81.92,369.34 L82.6,369.3 L83.29,369.27 L83.97,369.24 L84.66,369.21 L85.34,369.19 L86.02,369.17 L86.71,369.15 L87.39,369.14 L88.08,369.13 L88.76,369.12 L89.44,369.11 L90.13,369.11 L90.81,369.12 L91.5,369.12 L92.18,369.13 L92.86,369.14 L93.55,369.15 L94.23,369.17 L94.91,369.19 L95.6,369.21 L96.28,369.24 L96.97,369.27 L97.65,369.3 L98.33,369.34 L99.01,369.37 L99.7,369.41 L100.38,369.46 L101.06,369.5 L101.74,369.55 L102.43,369.6 L103.11,369.65 L103.79,369.71 L104.47,369.77 L105.15,369.83 L105.83,369.9 L106.51,369.96 L107.2,370.03 L107.88,370.1 L108.56,370.18 L109.23,370.25 L109.91,370.33 L110.59,370.41 L111.27,370.5 L111.95,370.59 L112.63,370.67 L113.31,370.76 L113.98,370.86 L114.66,370.95 L115.34,371.05 L116.01,371.15 L116.69,371.25 L117.36,371.36 L118.04,371.47 L118.71,371.57 L119.38,371.69 L120.06,371.8 L120.73,371.91 L121.4,372.03 L122.07,372.15 L122.74,372.27 L123.42,372.4 L124.09,372.52 L124.75,372.65 L125.42,372.78 L126.09,372.91 L126.76,373.04 L127.43,373.18 L128.09,373.31 L128.76,373.45 L129.43,373.59 L130.09,373.73 L130.76,373.88 L131.42,374.02 L132.08,374.17 L132.75,374.32 L133.41,374.47 L134.07,374.62 L134.73,374.77 L135.39,374.93 L136.06,375.08 L136.72,375.24 L137.38,375.4 L138.04,375.56 L138.7,375.72 L139.35,375.88 L140.01,376.05 L140.67,376.21 L141.33,376.38 L141.99,376.55 L142.65,376.72 L143.3,376.89 L143.96,377.06 L144.62,377.23 L145.27,377.4 L145.93,377.58 L146.59,377.75 L147.24,377.93 L147.9,378.11 L148.55,378.28 L149.21,378.46 L149.86,378.64 L150.52,378.82 L151.17,379 L151.83,379.18 L152.48,379.37 L153.14,379.55 L153.79,379.73 L154.45,379.92 L155.1,380.1 L155.76,380.29 L156.41,380.47 L157.06,380.66 L157.72,380.84 L158.37,381.03 L159.03,381.22 L159.68,381.41 L160.34,381.59 L160.99,381.78 L161.65,381.97 L162.3,382.16 L162.96,382.35 L163.61,382.54 L164.27,382.73 L164.92,382.92 L165.58,383.11 L166.23,383.3 L166.89,383.49 L167.54,383.67 L168.2,383.86 L168.86,384.05 L169.51,384.24 L170.17,384.43 L170.83,384.62 L171.48,384.81 L172.14,385 L172.8,385.18 L173.46,385.37 L174.11,385.56 L174.77,385.75 L175.43,385.93 L176.09,386.12 L176.75,386.31 L177.41,386.49 L178.07,386.68 L178.73,386.86 L179.39,387.04 L180.06,387.23 L180.72,387.41 L181.38,387.59 L182.04,387.77 L182.71,387.95 L183.37,388.13 L184.03,388.31 L184.7,388.49 L185.36,388.66 L186.03,388.84 L186.7,389.01 L187.36,389.19 L188.03,389.36 L188.7,389.53 L189.37,389.71 L190.04,389.88 L190.71,390.04 L191.38,390.21 L192.05,390.38 L192.72,390.54 L193.39,390.71 L194.07,390.87 L194.74,391.03 L195.42,391.19 L196.09,391.35 L196.77,391.51 L197.44,391.67 L198.12,391.82 L198.8,391.97 L199.48,392.13 L200.16,392.28 L200.84,392.42 L201.52,392.57 L202.2,392.72 L202.88,392.86 L203.57,393 L204.25,393.14 L204.94,393.28 L205.62,393.41 L206.31,393.54 L206.99,393.67 L207.68,393.8 L208.37,393.93 L209.05,394.05 L209.74,394.17 L210.43,394.28 L211.12,394.4 L211.8,394.51 L212.49,394.61 L213.18,394.72 L213.87,394.82 L214.56,394.91 L215.24,395.01 L215.93,395.1 L216.62,395.18 L217.31,395.26 L218,395.34 L218.68,395.41 L219.37,395.48 L220.06,395.55 L220.74,395.61 L221.43,395.66 L222.12,395.72 L222.8,395.76 L223.49,395.8 L224.17,395.84 L224.85,395.87 L225.54,395.9 L226.22,395.92 L226.9,395.94 L227.58,395.95 L228.26,395.96 L228.94,395.96 L229.62,395.95 L230.3,395.94 L230.98,395.93 L231.65,395.9 L232.33,395.87 L233,395.84 L233.68,395.8 L234.35,395.75 L235.02,395.7 L235.69,395.64 L236.36,395.57 L237.02,395.5 L237.69,395.42 L238.35,395.33 L239.02,395.23 L239.68,395.13 L240.34,395.03 L241,394.91 L241.65,394.79 L242.31,394.66 L242.96,394.52 L243.62,394.38 L244.27,394.23 L244.91,394.07 L245.56,393.91 L246.2,393.73 L246.85,393.56 L247.48,393.37 L248.12,393.18 L248.76,392.98 L249.39,392.77 L250.02,392.56 L250.65,392.34 L251.27,392.11 L251.9,391.87 L252.51,391.63 L253.13,391.38 L253.75,391.13 L254.36,390.87 L254.97,390.6 L255.57,390.32 L256.17,390.04 L256.77,389.75 L257.37,389.45 L257.96,389.14 L258.55,388.83 L259.13,388.51 L259.72,388.19 L260.29,387.85 L260.87,387.51 L261.44,387.17 L262.01,386.81 L262.57,386.45 L263.13,386.09 L263.69,385.71 L264.24,385.33 L264.79,384.95 L265.34,384.56 L265.88,384.16 L266.42,383.76 L266.96,383.35 L267.49,382.93 L268.02,382.51 L268.54,382.09 L269.06,381.66 L269.58,381.22 L270.09,380.78 L270.61,380.33 L271.11,379.88 L271.62,379.43 L272.12,378.97 L272.61,378.5 L273.11,378.03 L273.59,377.56 L274.08,377.08 L274.56,376.6 L275.04,376.11 L275.52,375.62 L275.99,375.13 L276.46,374.64 L276.92,374.14 L277.38,373.63 L277.84,373.12 L278.3,372.61 L278.75,372.1 L279.19,371.59 L279.64,371.07 L280.08,370.55 L280.52,370.02 L280.95,369.49 L281.38,368.96 L281.81,368.43 L282.23,367.89 L282.65,367.35 L283.07,366.81 L283.48,366.27 L283.89,365.72 L284.3,365.17 L284.71,364.62 L285.11,364.07 L285.51,363.51 L285.9,362.95 L286.29,362.39 L286.68,361.82 L287.07,361.26 L287.45,360.69 L287.83,360.12 L288.21,359.54 L288.59,358.97 L288.96,358.39 L289.33,357.81 L289.69,357.23 L290.06,356.64 L290.42,356.06 L290.77,355.47 L291.13,354.88 L291.48,354.29 L291.83,353.69 L292.18,353.1 L292.52,352.5 L292.86,351.9 L293.2,351.3 L293.54,350.69 L293.87,350.09 L294.2,349.48 L294.53,348.87 L294.86,348.26 L295.18,347.65 L295.5,347.04 L295.82,346.43 L296.14,345.81 L296.45,345.19 L296.77,344.57 L297.08,343.95 L297.38,343.33 L297.69,342.71 L297.99,342.08 L298.29,341.46 L298.59,340.83 L298.89,340.21 L299.18,339.58 L299.47,338.95 L299.76,338.32 L300.05,337.68 L300.34,337.05 L300.62,336.42 L300.9,335.78 L301.19,335.15 L301.46,334.51 L301.74,333.87 L302.01,333.23 L302.29,332.59 L302.56,331.95 L302.83,331.31 L303.09,330.67 L303.36,330.03 L303.62,329.39 L303.88,328.75 L304.14,328.1 L304.4,327.46 L304.66,326.82 L304.91,326.17 L305.17,325.53 L305.42,324.88 L305.67,324.23 L305.92,323.59 L306.17,322.94 L306.41,322.3 L306.66,321.65 L306.9,321 L307.14,320.36 L307.38,319.71 L307.62,319.06 L307.86,318.41 L308.1,317.77 L308.33,317.12 L308.56,316.47 L308.8,315.83 L309.03,315.18 L309.26,314.53 L309.49,313.89 L309.72,313.24 L309.94,312.6 L310.17,311.95 L310.39,311.31 L310.62,310.66 L310.84,310.02 L311.06,309.37 L311.28,308.73 L311.5,308.09 L311.72,307.45 L311.94,306.8 L312.15,306.16 L312.37,305.52 L312.58,304.88 L312.8,304.24 L313.01,303.59 L313.22,302.95 L313.43,302.31 L313.64,301.67 L313.85,301.03 L314.06,300.39 L314.27,299.75 L314.47,299.11 L314.68,298.47 L314.88,297.83 L315.09,297.18 L315.29,296.54 L315.49,295.9 L315.69,295.26 L315.89,294.62 L316.09,293.98 L316.29,293.33 L316.49,292.69 L316.68,292.05 L316.88,291.4 L317.08,290.76 L317.27,290.12 L317.46,289.47 L317.66,288.83 L317.85,288.18 L318.04,287.54 L318.23,286.89 L318.42,286.24 L318.61,285.59 L318.8,284.95 L318.99,284.3 L319.17,283.65 L319.36,283 L319.55,282.35 L319.73,281.7 L319.92,281.04 L320.1,280.39 L320.28,279.74 L320.46,279.08 L320.65,278.43 L320.83,277.77 L321.01,277.11 L321.19,276.45 L321.37,275.79 L321.54,275.13 L321.72,274.47 L321.9,273.81 L322.08,273.15 L322.25,272.48 L322.43,271.82 L322.6,271.15" stroke="#e19c24"/></g>
<text transform="translate(59.5,418.8) scale(1,1.04)" text-anchor="middle" class="tl" font-size="9.3">0</text>
<text transform="translate(97,418.8) scale(1,1.04)" text-anchor="middle" class="tl" font-size="9.3">500</text>
<text transform="translate(134.5,418.8) scale(1,1.04)" text-anchor="middle" class="tl" font-size="9.3"><tspan class="one">1</tspan>000</text>
<text transform="translate(172,418.8) scale(1,1.04)" text-anchor="middle" class="tl" font-size="9.3"><tspan class="one">1</tspan>500</text>
<text transform="translate(209.5,418.8) scale(1,1.04)" text-anchor="middle" class="tl" font-size="9.3">2000</text>
<text transform="translate(247,418.8) scale(1,1.04)" text-anchor="middle" class="tl" font-size="9.3">2500</text>
<text transform="translate(284.5,418.8) scale(1,1.04)" text-anchor="middle" class="tl" font-size="9.3">3000</text>
<text transform="translate(322,418.8) scale(1,1.04)" text-anchor="middle" class="tl" font-size="9.3">3500</text>
<text transform="translate(56.5,397.01) scale(1,1.04)" text-anchor="end" class="tl" font-size="9.3">−5.0<tspan dx="1.2" font-size="9.2">×</tspan><tspan dx="1.2"><tspan class="one">1</tspan>0</tspan><tspan dy="-4.0" font-size="8.2">9</tspan></text>
<text transform="translate(56.5,375.69) scale(1,1.04)" text-anchor="end" class="tl" font-size="9.3">0</text>
<text transform="translate(56.5,354.38) scale(1,1.04)" text-anchor="end" class="tl" font-size="9.3">5.0<tspan dx="1.2" font-size="9.2">×</tspan><tspan dx="1.2"><tspan class="one">1</tspan>0</tspan><tspan dy="-4.0" font-size="8.2">9</tspan></text>
<text transform="translate(56.5,333.06) scale(1,1.04)" text-anchor="end" class="tl" font-size="9.3"><tspan class="one">1</tspan>.0<tspan dx="1.2" font-size="9.2">×</tspan><tspan dx="1.2"><tspan class="one">1</tspan>0</tspan><tspan dy="-4.0" font-size="8.2"><tspan class="one">1</tspan>0</tspan></text>
<text transform="translate(56.5,311.75) scale(1,1.04)" text-anchor="end" class="tl" font-size="9.3"><tspan class="one">1</tspan>.5<tspan dx="1.2" font-size="9.2">×</tspan><tspan dx="1.2"><tspan class="one">1</tspan>0</tspan><tspan dy="-4.0" font-size="8.2"><tspan class="one">1</tspan>0</tspan></text>
<text transform="translate(56.5,290.43) scale(1,1.04)" text-anchor="end" class="tl" font-size="9.3">2.0<tspan dx="1.2" font-size="9.2">×</tspan><tspan dx="1.2"><tspan class="one">1</tspan>0</tspan><tspan dy="-4.0" font-size="8.2"><tspan class="one">1</tspan>0</tspan></text>
<text transform="translate(56.5,269.12) scale(1,1.04)" text-anchor="end" class="tl" font-size="9.3">2.5<tspan dx="1.2" font-size="9.2">×</tspan><tspan dx="1.2"><tspan class="one">1</tspan>0</tspan><tspan dy="-4.0" font-size="8.2"><tspan class="one">1</tspan>0</tspan></text>
<text transform="translate(56.5,247.8) scale(1,1.04)" text-anchor="end" class="tl" font-size="9.3">3.0<tspan dx="1.2" font-size="9.2">×</tspan><tspan dx="1.2"><tspan class="one">1</tspan>0</tspan><tspan dy="-4.0" font-size="8.2"><tspan class="one">1</tspan>0</tspan></text>
<path d="M417.5,406.7v-1.8 M417.5,234.5v1.8 M431.5,406.7v-1.8 M431.5,234.5v1.8 M444.5,406.7v-1.8 M444.5,234.5v1.8 M457.5,406.7v-1.8 M457.5,234.5v1.8 M471.5,406.7v-1.8 M471.5,234.5v1.8 M484.5,406.7v-1.8 M484.5,234.5v1.8 M497.5,406.7v-1.8 M497.5,234.5v1.8 M510.5,406.7v-1.8 M510.5,234.5v1.8 M524.5,406.7v-1.8 M524.5,234.5v1.8 M537.5,406.7v-1.8 M537.5,234.5v1.8 M550.5,406.7v-1.8 M550.5,234.5v1.8 M564.5,406.7v-1.8 M564.5,234.5v1.8 M577.5,406.7v-1.8 M577.5,234.5v1.8 M590.5,406.7v-1.8 M590.5,234.5v1.8 M604.5,406.7v-1.8 M604.5,234.5v1.8 M617.5,406.7v-1.8 M617.5,234.5v1.8 M630.5,406.7v-1.8 M630.5,234.5v1.8 M644.5,406.7v-1.8 M644.5,234.5v1.8 M657.5,406.7v-1.8 M657.5,234.5v1.8 M670.5,406.7v-1.8 M670.5,234.5v1.8 M471.5,406.7v-3 M471.5,234.5v3 M537.5,406.7v-3 M537.5,234.5v3 M604.5,406.7v-3 M604.5,234.5v3 M670.5,406.7v-3 M670.5,234.5v3 M404.5,396.5h1.8 M684,396.5h-1.8 M404.5,387.5h1.8 M684,387.5h-1.8 M404.5,377.5h1.8 M684,377.5h-1.8 M404.5,367.5h1.8 M684,367.5h-1.8 M404.5,357.5h1.8 M684,357.5h-1.8 M404.5,347.5h1.8 M684,347.5h-1.8 M404.5,338.5h1.8 M684,338.5h-1.8 M404.5,328.5h1.8 M684,328.5h-1.8 M404.5,318.5h1.8 M684,318.5h-1.8 M404.5,308.5h1.8 M684,308.5h-1.8 M404.5,299.5h1.8 M684,299.5h-1.8 M404.5,289.5h1.8 M684,289.5h-1.8 M404.5,279.5h1.8 M684,279.5h-1.8 M404.5,269.5h1.8 M684,269.5h-1.8 M404.5,259.5h1.8 M684,259.5h-1.8 M404.5,250.5h1.8 M684,250.5h-1.8 M404.5,240.5h1.8 M684,240.5h-1.8 M404.5,367.5h3 M684,367.5h-3 M404.5,328.5h3 M684,328.5h-3 M404.5,289.5h3 M684,289.5h-3 M404.5,250.5h3 M684,250.5h-3" stroke="#848484" stroke-width="0.9" fill="none"/>
<rect x="404.5" y="234.5" width="279.5" height="172.2" fill="none" stroke="#959595" stroke-width="1"/>
<line x1="404.5" y1="379.3" x2="684" y2="379.3" stroke="#e19c24" stroke-width="1.6"/>
<g clip-path="url(#cd)"><path d="M572.6,407.39 L573.1,406.51 L573.59,405.65 L574.09,404.8 L574.59,403.97 L575.08,403.16 L575.58,402.36 L576.08,401.58 L576.58,400.82 L577.07,400.07 L577.57,399.33 L578.07,398.61 L578.56,397.91 L579.06,397.22 L579.56,396.54 L580.05,395.88 L580.55,395.23 L581.05,394.59 L581.55,393.97 L582.04,393.36 L582.54,392.76 L583.04,392.17 L583.53,391.6 L584.03,391.03 L584.53,390.48 L585.02,389.94 L585.52,389.4 L586.02,388.88 L586.52,388.37 L587.01,387.87 L587.51,387.38 L588.01,386.89 L588.5,386.42 L589,385.95 L589.5,385.49 L589.99,385.04 L590.49,384.6 L590.99,384.16 L591.49,383.73 L591.98,383.31 L592.48,382.89 L592.98,382.48 L593.47,382.07 L593.97,381.67 L594.47,381.28 L594.96,380.89 L595.46,380.51 L595.96,380.12 L596.46,379.75 L596.95,379.37 L597.45,379 L597.95,378.64 L598.44,378.27 L598.94,377.91 L599.44,377.55 L599.93,377.19 L600.43,376.84 L600.93,376.48 L601.43,376.13 L601.92,375.78 L602.42,375.42 L602.92,375.07 L603.41,374.72 L603.91,374.36 L604.41,374.01 L604.9,373.66 L605.4,373.3 L605.9,372.94 L606.39,372.58 L606.89,372.22 L607.39,371.85 L607.89,371.49 L608.38,371.12 L608.88,370.75 L609.38,370.37 L609.87,369.99 L610.37,369.61 L610.87,369.22 L611.36,368.83 L611.86,368.44 L612.36,368.04 L612.86,367.64 L613.35,367.23 L613.85,366.81 L614.35,366.4 L614.84,365.97 L615.34,365.54 L615.84,365.1 L616.33,364.66 L616.83,364.21 L617.33,363.75 L617.83,363.29 L618.32,362.82 L618.82,362.34 L619.32,361.85 L619.81,361.36 L620.31,360.86 L620.81,360.35 L621.3,359.83 L621.8,359.3 L622.3,358.76 L622.8,358.22 L623.29,357.66 L623.79,357.1 L624.29,356.52 L624.78,355.94 L625.28,355.34 L625.78,354.73 L626.27,354.12 L626.77,353.49 L627.27,352.85 L627.77,352.2 L628.26,351.54 L628.76,350.87 L629.26,350.19 L629.75,349.5 L630.25,348.8 L630.75,348.09 L631.24,347.37 L631.74,346.64 L632.24,345.91 L632.74,345.16 L633.23,344.4 L633.73,343.64 L634.23,342.86 L634.72,342.08 L635.22,341.29 L635.72,340.48 L636.21,339.67 L636.71,338.86 L637.21,338.03 L637.71,337.2 L638.2,336.35 L638.7,335.5 L639.2,334.63 L639.69,333.76 L640.19,332.87 L640.69,331.98 L641.18,331.07 L641.68,330.15 L642.18,329.21 L642.67,328.26 L643.17,327.3 L643.67,326.33 L644.17,325.33 L644.66,324.33 L645.16,323.3 L645.66,322.26 L646.15,321.21 L646.65,320.13 L647.15,319.04 L647.64,317.93 L648.14,316.8 L648.64,315.65 L649.14,314.48 L649.63,313.3 L650.13,312.09 L650.63,310.86 L651.12,309.6 L651.62,308.33 L652.12,307.03 L652.61,305.71 L653.11,304.36 L653.61,302.99 L654.11,301.6 L654.6,300.18 L655.1,298.74 L655.6,297.26 L656.09,295.77 L656.59,294.24 L657.09,292.69 L657.58,291.11 L658.08,289.5 L658.58,287.86 L659.08,286.19 L659.57,284.49 L660.07,282.76 L660.57,281 L661.06,279.21 L661.56,277.39 L662.06,275.53 L662.55,273.64 L663.05,271.72 L663.55,269.76 L664.05,267.77 L664.54,265.74 L665.04,263.67 L665.54,261.57 L666.03,259.43 L666.53,257.26 L667.03,255.04 L667.52,252.79 L668.02,250.49 L668.52,248.16 L669.02,245.79 L669.51,243.37 L670.01,240.91 L670.51,238.41 L671,235.87 L671.5,233.28" stroke="#5e81b5" stroke-width="1.6" fill="none"/><circle cx="577.52" cy="399.85" r="2.1" fill="#5e81b5"/><circle cx="590.83" cy="384.2" r="2.1" fill="#5e81b5"/><circle cx="604.14" cy="374.02" r="2.1" fill="#5e81b5"/><circle cx="637.42" cy="337.82" r="2.1" fill="#5e81b5"/><circle cx="670.69" cy="238.61" r="2.1" fill="#5e81b5"/></g>
<text transform="translate(404.5,419) scale(1,1.04)" text-anchor="middle" class="tl" font-size="9.3">0</text>
<text transform="translate(471.05,419) scale(1,1.04)" text-anchor="middle" class="tl" font-size="9.3">50</text>
<text transform="translate(537.6,419) scale(1,1.04)" text-anchor="middle" class="tl" font-size="9.3"><tspan class="one">1</tspan>00</text>
<text transform="translate(604.14,419) scale(1,1.04)" text-anchor="middle" class="tl" font-size="9.3"><tspan class="one">1</tspan>50</text>
<text transform="translate(670.69,419) scale(1,1.04)" text-anchor="middle" class="tl" font-size="9.3">200</text>
<text transform="translate(401.5,410) scale(1,1.04)" text-anchor="end" class="tl" font-size="9.3">0</text>
<text transform="translate(401.5,370.86) scale(1,1.04)" text-anchor="end" class="tl" font-size="9.3">200</text>
<text transform="translate(401.5,331.73) scale(1,1.04)" text-anchor="end" class="tl" font-size="9.3">400</text>
<text transform="translate(401.5,292.59) scale(1,1.04)" text-anchor="end" class="tl" font-size="9.3">600</text>
<text transform="translate(401.5,253.45) scale(1,1.04)" text-anchor="end" class="tl" font-size="9.3">800</text>
<path d="M65.5,644.5v-1.8 M65.5,475v1.8 M74.5,644.5v-1.8 M74.5,475v1.8 M83.5,644.5v-1.8 M83.5,475v1.8 M91.5,644.5v-1.8 M91.5,475v1.8 M100.5,644.5v-1.8 M100.5,475v1.8 M109.5,644.5v-1.8 M109.5,475v1.8 M118.5,644.5v-1.8 M118.5,475v1.8 M127.5,644.5v-1.8 M127.5,475v1.8 M136.5,644.5v-1.8 M136.5,475v1.8 M145.5,644.5v-1.8 M145.5,475v1.8 M154.5,644.5v-1.8 M154.5,475v1.8 M162.5,644.5v-1.8 M162.5,475v1.8 M171.5,644.5v-1.8 M171.5,475v1.8 M180.5,644.5v-1.8 M180.5,475v1.8 M189.5,644.5v-1.8 M189.5,475v1.8 M198.5,644.5v-1.8 M198.5,475v1.8 M207.5,644.5v-1.8 M207.5,475v1.8 M216.5,644.5v-1.8 M216.5,475v1.8 M225.5,644.5v-1.8 M225.5,475v1.8 M233.5,644.5v-1.8 M233.5,475v1.8 M242.5,644.5v-1.8 M242.5,475v1.8 M251.5,644.5v-1.8 M251.5,475v1.8 M260.5,644.5v-1.8 M260.5,475v1.8 M269.5,644.5v-1.8 M269.5,475v1.8 M278.5,644.5v-1.8 M278.5,475v1.8 M287.5,644.5v-1.8 M287.5,475v1.8 M296.5,644.5v-1.8 M296.5,475v1.8 M304.5,644.5v-1.8 M304.5,475v1.8 M313.5,644.5v-1.8 M313.5,475v1.8 M322.5,644.5v-1.8 M322.5,475v1.8 M100.5,644.5v-3 M100.5,475v3 M145.5,644.5v-3 M145.5,475v3 M189.5,644.5v-3 M189.5,475v3 M233.5,644.5v-3 M233.5,475v3 M278.5,644.5v-3 M278.5,475v3 M322.5,644.5v-3 M322.5,475v3 M56.5,636.5h1.8 M331.5,636.5h-1.8 M56.5,628.5h1.8 M331.5,628.5h-1.8 M56.5,620.5h1.8 M331.5,620.5h-1.8 M56.5,613.5h1.8 M331.5,613.5h-1.8 M56.5,605.5h1.8 M331.5,605.5h-1.8 M56.5,597.5h1.8 M331.5,597.5h-1.8 M56.5,589.5h1.8 M331.5,589.5h-1.8 M56.5,581.5h1.8 M331.5,581.5h-1.8 M56.5,573.5h1.8 M331.5,573.5h-1.8 M56.5,566.5h1.8 M331.5,566.5h-1.8 M56.5,558.5h1.8 M331.5,558.5h-1.8 M56.5,550.5h1.8 M331.5,550.5h-1.8 M56.5,542.5h1.8 M331.5,542.5h-1.8 M56.5,534.5h1.8 M331.5,534.5h-1.8 M56.5,526.5h1.8 M331.5,526.5h-1.8 M56.5,518.5h1.8 M331.5,518.5h-1.8 M56.5,511.5h1.8 M331.5,511.5h-1.8 M56.5,503.5h1.8 M331.5,503.5h-1.8 M56.5,495.5h1.8 M331.5,495.5h-1.8 M56.5,487.5h1.8 M331.5,487.5h-1.8 M56.5,479.5h1.8 M331.5,479.5h-1.8 M56.5,613.5h3 M331.5,613.5h-3 M56.5,581.5h3 M331.5,581.5h-3 M56.5,550.5h3 M331.5,550.5h-3 M56.5,518.5h3 M331.5,518.5h-3 M56.5,487.5h3 M331.5,487.5h-3" stroke="#848484" stroke-width="0.9" fill="none"/>
<rect x="56.5" y="475" width="275" height="169.5" fill="none" stroke="#959595" stroke-width="1"/>
<line x1="56.5" y1="622.53" x2="331.5" y2="622.53" stroke="#e19c24" stroke-width="1.6"/>
<g clip-path="url(#ce)"><path d="M218.6,644.88 L219.12,644.28 L219.65,643.69 L220.17,643.1 L220.69,642.52 L221.21,641.94 L221.74,641.38 L222.26,640.81 L222.78,640.26 L223.3,639.71 L223.83,639.17 L224.35,638.64 L224.87,638.11 L225.39,637.58 L225.92,637.06 L226.44,636.55 L226.96,636.04 L227.48,635.54 L228.01,635.04 L228.53,634.55 L229.05,634.06 L229.57,633.57 L230.1,633.09 L230.62,632.62 L231.14,632.14 L231.67,631.68 L232.19,631.21 L232.71,630.75 L233.23,630.29 L233.76,629.84 L234.28,629.38 L234.8,628.93 L235.32,628.49 L235.85,628.04 L236.37,627.6 L236.89,627.16 L237.41,626.72 L237.94,626.28 L238.46,625.85 L238.98,625.42 L239.5,624.98 L240.03,624.55 L240.55,624.12 L241.07,623.69 L241.59,623.26 L242.12,622.84 L242.64,622.41 L243.16,621.98 L243.69,621.55 L244.21,621.13 L244.73,620.7 L245.25,620.27 L245.78,619.84 L246.3,619.41 L246.82,618.98 L247.34,618.55 L247.87,618.11 L248.39,617.68 L248.91,617.24 L249.43,616.81 L249.96,616.37 L250.48,615.92 L251,615.48 L251.52,615.03 L252.05,614.58 L252.57,614.13 L253.09,613.68 L253.62,613.22 L254.14,612.76 L254.66,612.29 L255.18,611.82 L255.71,611.35 L256.23,610.88 L256.75,610.4 L257.27,609.91 L257.8,609.43 L258.32,608.93 L258.84,608.43 L259.36,607.93 L259.89,607.42 L260.41,606.91 L260.93,606.39 L261.45,605.87 L261.98,605.34 L262.5,604.81 L263.02,604.27 L263.54,603.72 L264.07,603.17 L264.59,602.61 L265.11,602.04 L265.64,601.47 L266.16,600.89 L266.68,600.3 L267.2,599.71 L267.73,599.1 L268.25,598.5 L268.77,597.88 L269.29,597.25 L269.82,596.62 L270.34,595.98 L270.86,595.33 L271.38,594.67 L271.91,594 L272.43,593.33 L272.95,592.64 L273.47,591.95 L274,591.25 L274.52,590.53 L275.04,589.81 L275.56,589.08 L276.09,588.33 L276.61,587.58 L277.13,586.82 L277.66,586.04 L278.18,585.26 L278.7,584.47 L279.22,583.66 L279.75,582.84 L280.27,582.02 L280.79,581.18 L281.31,580.33 L281.84,579.47 L282.36,578.6 L282.88,577.72 L283.4,576.83 L283.93,575.92 L284.45,575.01 L284.97,574.08 L285.49,573.14 L286.02,572.19 L286.54,571.23 L287.06,570.26 L287.58,569.28 L288.11,568.29 L288.63,567.28 L289.15,566.26 L289.68,565.24 L290.2,564.2 L290.72,563.14 L291.24,562.08 L291.77,561 L292.29,559.92 L292.81,558.82 L293.33,557.71 L293.86,556.58 L294.38,555.45 L294.9,554.3 L295.42,553.14 L295.95,551.97 L296.47,550.79 L296.99,549.6 L297.51,548.39 L298.04,547.17 L298.56,545.94 L299.08,544.69 L299.61,543.44 L300.13,542.17 L300.65,540.88 L301.17,539.59 L301.7,538.28 L302.22,536.96 L302.74,535.63 L303.26,534.29 L303.79,532.93 L304.31,531.56 L304.83,530.18 L305.35,528.78 L305.88,527.37 L306.4,525.95 L306.92,524.51 L307.44,523.07 L307.97,521.6 L308.49,520.13 L309.01,518.64 L309.53,517.14 L310.06,515.63 L310.58,514.1 L311.1,512.56 L311.63,511 L312.15,509.44 L312.67,507.86 L313.19,506.26 L313.72,504.65 L314.24,503.03 L314.76,501.4 L315.28,499.75 L315.81,498.08 L316.33,496.41 L316.85,494.72 L317.37,493.01 L317.9,491.29 L318.42,489.56 L318.94,487.81 L319.46,486.05 L319.99,484.28 L320.51,482.49 L321.03,480.69 L321.55,478.87 L322.08,477.04 L322.6,475.19" stroke="#5e81b5" stroke-width="1.6" fill="none"/><circle cx="233.92" cy="630.38" r="2.1" fill="#5e81b5"/><circle cx="260.53" cy="607.15" r="2.1" fill="#5e81b5"/><circle cx="278.27" cy="585.96" r="2.1" fill="#5e81b5"/><circle cx="322.63" cy="477.04" r="2.1" fill="#5e81b5"/></g>
<text transform="translate(56.5,656.8) scale(1,1.04)" text-anchor="middle" class="tl" font-size="9.3">0</text>
<text transform="translate(100.85,656.8) scale(1,1.04)" text-anchor="middle" class="tl" font-size="9.3">50</text>
<text transform="translate(145.21,656.8) scale(1,1.04)" text-anchor="middle" class="tl" font-size="9.3"><tspan class="one">1</tspan>00</text>
<text transform="translate(189.56,656.8) scale(1,1.04)" text-anchor="middle" class="tl" font-size="9.3"><tspan class="one">1</tspan>50</text>
<text transform="translate(233.92,656.8) scale(1,1.04)" text-anchor="middle" class="tl" font-size="9.3">200</text>
<text transform="translate(278.27,656.8) scale(1,1.04)" text-anchor="middle" class="tl" font-size="9.3">250</text>
<text transform="translate(322.63,656.8) scale(1,1.04)" text-anchor="middle" class="tl" font-size="9.3">300</text>
<text transform="translate(53.5,647.8) scale(1,1.04)" text-anchor="end" class="tl" font-size="9.3">0</text>
<text transform="translate(53.5,616.41) scale(1,1.04)" text-anchor="end" class="tl" font-size="9.3">200</text>
<text transform="translate(53.5,585.02) scale(1,1.04)" text-anchor="end" class="tl" font-size="9.3">400</text>
<text transform="translate(53.5,553.63) scale(1,1.04)" text-anchor="end" class="tl" font-size="9.3">600</text>
<text transform="translate(53.5,522.24) scale(1,1.04)" text-anchor="end" class="tl" font-size="9.3">800</text>
<text transform="translate(53.5,490.86) scale(1,1.04)" text-anchor="end" class="tl" font-size="9.3"><tspan class="one">1</tspan>000</text>
<path d="M417.5,644v-1.8 M417.5,474v1.8 M426.5,644v-1.8 M426.5,474v1.8 M435.5,644v-1.8 M435.5,474v1.8 M444.5,644v-1.8 M444.5,474v1.8 M453.5,644v-1.8 M453.5,474v1.8 M462.5,644v-1.8 M462.5,474v1.8 M471.5,644v-1.8 M471.5,474v1.8 M480.5,644v-1.8 M480.5,474v1.8 M489.5,644v-1.8 M489.5,474v1.8 M497.5,644v-1.8 M497.5,474v1.8 M506.5,644v-1.8 M506.5,474v1.8 M515.5,644v-1.8 M515.5,474v1.8 M524.5,644v-1.8 M524.5,474v1.8 M533.5,644v-1.8 M533.5,474v1.8 M542.5,644v-1.8 M542.5,474v1.8 M551.5,644v-1.8 M551.5,474v1.8 M560.5,644v-1.8 M560.5,474v1.8 M568.5,644v-1.8 M568.5,474v1.8 M577.5,644v-1.8 M577.5,474v1.8 M586.5,644v-1.8 M586.5,474v1.8 M595.5,644v-1.8 M595.5,474v1.8 M604.5,644v-1.8 M604.5,474v1.8 M613.5,644v-1.8 M613.5,474v1.8 M622.5,644v-1.8 M622.5,474v1.8 M631.5,644v-1.8 M631.5,474v1.8 M639.5,644v-1.8 M639.5,474v1.8 M648.5,644v-1.8 M648.5,474v1.8 M657.5,644v-1.8 M657.5,474v1.8 M666.5,644v-1.8 M666.5,474v1.8 M675.5,644v-1.8 M675.5,474v1.8 M453.5,644v-3 M453.5,474v3 M497.5,644v-3 M497.5,474v3 M542.5,644v-3 M542.5,474v3 M586.5,644v-3 M586.5,474v3 M631.5,644v-3 M631.5,474v3 M675.5,644v-3 M675.5,474v3 M409.1,636.5h1.8 M684.4,636.5h-1.8 M409.1,629.5h1.8 M684.4,629.5h-1.8 M409.1,622.5h1.8 M684.4,622.5h-1.8 M409.1,615.5h1.8 M684.4,615.5h-1.8 M409.1,608.5h1.8 M684.4,608.5h-1.8 M409.1,601.5h1.8 M684.4,601.5h-1.8 M409.1,594.5h1.8 M684.4,594.5h-1.8 M409.1,587.5h1.8 M684.4,587.5h-1.8 M409.1,580.5h1.8 M684.4,580.5h-1.8 M409.1,573.5h1.8 M684.4,573.5h-1.8 M409.1,566.5h1.8 M684.4,566.5h-1.8 M409.1,559.5h1.8 M684.4,559.5h-1.8 M409.1,552.5h1.8 M684.4,552.5h-1.8 M409.1,545.5h1.8 M684.4,545.5h-1.8 M409.1,538.5h1.8 M684.4,538.5h-1.8 M409.1,531.5h1.8 M684.4,531.5h-1.8 M409.1,524.5h1.8 M684.4,524.5h-1.8 M409.1,517.5h1.8 M684.4,517.5h-1.8 M409.1,510.5h1.8 M684.4,510.5h-1.8 M409.1,503.5h1.8 M684.4,503.5h-1.8 M409.1,496.5h1.8 M684.4,496.5h-1.8 M409.1,489.5h1.8 M684.4,489.5h-1.8 M409.1,482.5h1.8 M684.4,482.5h-1.8 M409.1,475.5h1.8 M684.4,475.5h-1.8 M409.1,615.5h3 M684.4,615.5h-3 M409.1,587.5h3 M684.4,587.5h-3 M409.1,559.5h3 M684.4,559.5h-3 M409.1,531.5h3 M684.4,531.5h-3 M409.1,503.5h3 M684.4,503.5h-3 M409.1,475.5h3 M684.4,475.5h-3" stroke="#848484" stroke-width="0.9" fill="none"/>
<rect x="409.1" y="474" width="275.3" height="170" fill="none" stroke="#959595" stroke-width="1"/>
<line x1="409.1" y1="624.33" x2="684.4" y2="624.33" stroke="#e19c24" stroke-width="1.6"/>
<g clip-path="url(#cf)"><path d="M581.6,644.79 L582.07,644.22 L582.55,643.65 L583.02,643.09 L583.49,642.53 L583.97,641.97 L584.44,641.41 L584.91,640.86 L585.39,640.3 L585.86,639.75 L586.33,639.2 L586.81,638.65 L587.28,638.1 L587.75,637.55 L588.23,637 L588.7,636.46 L589.17,635.91 L589.65,635.37 L590.12,634.83 L590.59,634.29 L591.07,633.74 L591.54,633.2 L592.01,632.66 L592.49,632.12 L592.96,631.58 L593.43,631.04 L593.91,630.51 L594.38,629.97 L594.85,629.43 L595.33,628.89 L595.8,628.35 L596.27,627.81 L596.75,627.27 L597.22,626.73 L597.69,626.19 L598.17,625.65 L598.64,625.11 L599.11,624.57 L599.59,624.03 L600.06,623.49 L600.53,622.94 L601.01,622.4 L601.48,621.85 L601.95,621.3 L602.43,620.76 L602.9,620.21 L603.37,619.66 L603.85,619.11 L604.32,618.55 L604.79,618 L605.27,617.44 L605.74,616.88 L606.22,616.32 L606.69,615.76 L607.16,615.2 L607.64,614.63 L608.11,614.07 L608.58,613.5 L609.06,612.93 L609.53,612.35 L610,611.78 L610.48,611.2 L610.95,610.62 L611.42,610.03 L611.9,609.45 L612.37,608.86 L612.84,608.26 L613.32,607.67 L613.79,607.07 L614.26,606.47 L614.74,605.87 L615.21,605.26 L615.68,604.65 L616.16,604.04 L616.63,603.42 L617.1,602.8 L617.58,602.17 L618.05,601.55 L618.52,600.92 L619,600.28 L619.47,599.64 L619.94,599 L620.42,598.35 L620.89,597.7 L621.36,597.05 L621.84,596.39 L622.31,595.72 L622.78,595.05 L623.26,594.38 L623.73,593.71 L624.2,593.02 L624.68,592.34 L625.15,591.65 L625.62,590.95 L626.1,590.25 L626.57,589.54 L627.04,588.83 L627.52,588.12 L627.99,587.4 L628.46,586.67 L628.94,585.94 L629.41,585.2 L629.88,584.46 L630.36,583.71 L630.83,582.95 L631.3,582.19 L631.78,581.43 L632.25,580.66 L632.72,579.88 L633.2,579.1 L633.67,578.31 L634.14,577.51 L634.62,576.71 L635.09,575.9 L635.56,575.09 L636.04,574.27 L636.51,573.44 L636.98,572.6 L637.46,571.76 L637.93,570.91 L638.4,570.06 L638.88,569.2 L639.35,568.33 L639.82,567.45 L640.3,566.57 L640.77,565.68 L641.24,564.78 L641.72,563.88 L642.19,562.96 L642.66,562.04 L643.14,561.12 L643.61,560.18 L644.08,559.24 L644.56,558.29 L645.03,557.33 L645.5,556.36 L645.98,555.39 L646.45,554.4 L646.92,553.41 L647.4,552.41 L647.87,551.4 L648.34,550.39 L648.82,549.36 L649.29,548.33 L649.76,547.29 L650.24,546.23 L650.71,545.17 L651.18,544.11 L651.66,543.03 L652.13,541.94 L652.61,540.84 L653.08,539.74 L653.55,538.63 L654.03,537.5 L654.5,536.37 L654.97,535.23 L655.45,534.07 L655.92,532.91 L656.39,531.74 L656.87,530.56 L657.34,529.37 L657.81,528.17 L658.29,526.95 L658.76,525.73 L659.23,524.5 L659.71,523.26 L660.18,522.01 L660.65,520.74 L661.13,519.47 L661.6,518.19 L662.07,516.89 L662.55,515.59 L663.02,514.27 L663.49,512.94 L663.97,511.61 L664.44,510.26 L664.91,508.9 L665.39,507.53 L665.86,506.14 L666.33,504.75 L666.81,503.35 L667.28,501.93 L667.75,500.5 L668.23,499.06 L668.7,497.61 L669.17,496.15 L669.65,494.67 L670.12,493.19 L670.59,491.69 L671.07,490.18 L671.54,488.65 L672.01,487.12 L672.49,485.57 L672.96,484.01 L673.43,482.44 L673.91,480.85 L674.38,479.26 L674.85,477.65 L675.33,476.02 L675.8,474.39" stroke="#5e81b5" stroke-width="1.6" fill="none"/><circle cx="586.71" cy="638.66" r="2.1" fill="#5e81b5"/><circle cx="604.47" cy="618.85" r="2.1" fill="#5e81b5"/><circle cx="631.12" cy="583.87" r="2.1" fill="#5e81b5"/><circle cx="653.32" cy="540.17" r="2.1" fill="#5e81b5"/><circle cx="675.52" cy="475.26" r="2.1" fill="#5e81b5"/></g>
<text transform="translate(409.1,656.3) scale(1,1.04)" text-anchor="middle" class="tl" font-size="9.3">0</text>
<text transform="translate(453.5,656.3) scale(1,1.04)" text-anchor="middle" class="tl" font-size="9.3">50</text>
<text transform="translate(497.91,656.3) scale(1,1.04)" text-anchor="middle" class="tl" font-size="9.3"><tspan class="one">1</tspan>00</text>
<text transform="translate(542.31,656.3) scale(1,1.04)" text-anchor="middle" class="tl" font-size="9.3"><tspan class="one">1</tspan>50</text>
<text transform="translate(586.71,656.3) scale(1,1.04)" text-anchor="middle" class="tl" font-size="9.3">200</text>
<text transform="translate(631.12,656.3) scale(1,1.04)" text-anchor="middle" class="tl" font-size="9.3">250</text>
<text transform="translate(675.52,656.3) scale(1,1.04)" text-anchor="middle" class="tl" font-size="9.3">300</text>
<text transform="translate(406.1,647.3) scale(1,1.04)" text-anchor="end" class="tl" font-size="9.3">0</text>
<text transform="translate(406.1,619.2) scale(1,1.04)" text-anchor="end" class="tl" font-size="9.3">200</text>
<text transform="translate(406.1,591.1) scale(1,1.04)" text-anchor="end" class="tl" font-size="9.3">400</text>
<text transform="translate(406.1,563) scale(1,1.04)" text-anchor="end" class="tl" font-size="9.3">600</text>
<text transform="translate(406.1,534.9) scale(1,1.04)" text-anchor="end" class="tl" font-size="9.3">800</text>
<text transform="translate(406.1,506.8) scale(1,1.04)" text-anchor="end" class="tl" font-size="9.3"><tspan class="one">1</tspan>000</text>
<text transform="translate(406.1,478.7) scale(1,1.04)" text-anchor="end" class="tl" font-size="9.3"><tspan class="one">1</tspan>200</text>
<line x1="60.8" y1="25" x2="78.8" y2="25" stroke="#5e81b5" stroke-width="1.6"/>
<line x1="60.8" y1="44.6" x2="78.8" y2="44.6" stroke="#e19c24" stroke-width="1.6"/>
<text x="85.4" y="29" class="lg" font-size="11">BM<tspan class="one">1</tspan> with T<tspan dy="2.2" font-size="8.6">C</tspan><tspan dy="-2.2" dx="1.3" font-size="11.6">=</tspan><tspan dx="-1.0">277.5 GeV</tspan></text>
<text x="85.4" y="48.6" class="lg" font-size="11">BM<tspan class="one">1</tspan> with T<tspan dy="2.2" font-size="8.6">N</tspan><tspan dy="-2.2" dx="1.3" font-size="11.6">=</tspan><tspan dx="-1.0"><tspan class="one">1</tspan>44.6 GeV</tspan></text>
<line x1="422" y1="24" x2="440" y2="24" stroke="#5e81b5" stroke-width="1.6"/>
<line x1="422" y1="43.4" x2="440" y2="43.4" stroke="#e19c24" stroke-width="1.6"/>
<text x="446.5" y="28" class="lg" font-size="11">BM2 with T<tspan dy="2.2" font-size="8.6">C</tspan><tspan dy="-2.2" dx="1.3" font-size="11.6">=</tspan><tspan dx="-1.0">4<tspan class="one">1</tspan>6.5 GeV</tspan></text>
<text x="446.5" y="47.4" class="lg" font-size="11">BM2 with T<tspan dy="2.2" font-size="8.6">N</tspan><tspan dy="-2.2" dx="1.3" font-size="11.6">=</tspan><tspan dx="-1.0">2<tspan class="one">1</tspan>0.2 GeV</tspan></text>
<line x1="67.8" y1="265.5" x2="85.8" y2="265.5" stroke="#5e81b5" stroke-width="1.6"/>
<line x1="67.8" y1="284.9" x2="85.8" y2="284.9" stroke="#e19c24" stroke-width="1.6"/>
<text x="92.4" y="269.5" class="lg" font-size="11">BM3 with <tspan font-style="italic">T</tspan><tspan dy="2.2" font-size="8.6" font-style="italic">C</tspan><tspan dy="-2.2">=456 GeV</tspan></text>
<text x="92.4" y="288.9" class="lg" font-size="11">BM3 with <tspan font-style="italic">T</tspan><tspan dy="2.2" font-size="8.6" font-style="italic">N</tspan><tspan dy="-2.2">=2<tspan class="one">1</tspan>4.7 GeV</tspan></text>
<line x1="473.7" y1="258.4" x2="491.7" y2="258.4" stroke="#5e81b5" stroke-width="1.6"/>
<line x1="473.7" y1="277.7" x2="491.7" y2="277.7" stroke="#e19c24" stroke-width="1.6"/>
<text x="498" y="263" class="lg" font-size="11">BM<tspan class="one">1</tspan></text>
<text x="498" y="282.3" class="lg" font-size="11">S<tspan dy="2.2" font-size="9.2">3</tspan><tspan dy="-2.2" dx="0.6">(T)/T</tspan><tspan dx="0.5">=</tspan><tspan dx="-0.9"><tspan class="one">1</tspan>40</tspan></text>
<line x1="123.4" y1="498.1" x2="141.4" y2="498.1" stroke="#5e81b5" stroke-width="1.6"/>
<line x1="123.4" y1="517.8" x2="141.4" y2="517.8" stroke="#e19c24" stroke-width="1.6"/>
<text x="147.4" y="502.6" class="lg" font-size="11">BM2</text>
<text x="147.4" y="522.3" class="lg" font-size="11">S<tspan dy="2.2" font-size="9.2">3</tspan><tspan dy="-2.2" dx="0.6">(T)/T</tspan><tspan dx="0.5">=</tspan><tspan dx="-0.9"><tspan class="one">1</tspan>40</tspan></text>
<line x1="476.4" y1="497.4" x2="494.4" y2="497.4" stroke="#5e81b5" stroke-width="1.6"/>
<line x1="476.4" y1="516.7" x2="494.4" y2="516.7" stroke="#e19c24" stroke-width="1.6"/>
<text x="500" y="501.9" class="lg" font-size="11">BM3</text>
<text x="500" y="521.2" class="lg" font-size="11"><tspan font-style="italic">S</tspan><tspan dy="2.2" font-size="9.2">3</tspan><tspan dy="-2.2">(T)/T=<tspan class="one">1</tspan>40</tspan></text>
<text x="187" y="198.5" text-anchor="middle" class="al xl">H2(GeV)</text>
<text x="548.15" y="198.5" text-anchor="middle" class="al xl">H2(GeV)</text>
<text x="190.75" y="436.2" text-anchor="middle" class="al xl">H2(GeV)</text>
<text x="544.25" y="436.2" text-anchor="middle" class="al xl">T(GeV)</text>
<text x="194" y="674.5" text-anchor="middle" class="al xl">T(GeV)</text>
<text x="546.75" y="674.2" text-anchor="middle" class="al xl"><tspan font-style="italic">T</tspan>(GeV)</text>
<text transform="translate(6.9,85.9) rotate(-90)" text-anchor="middle" class="al" font-size="10">V<tspan dy="2.2" font-size="8.5">eff</tspan></text>
<text transform="translate(360,85.5) rotate(-90)" text-anchor="middle" class="al" font-size="10">V<tspan dy="2.2" font-size="8.5">eff</tspan></text>
<text transform="translate(6.9,325.7) rotate(-90)" text-anchor="middle" class="al" font-size="10">V<tspan dy="2.2" font-size="8.5">eff</tspan></text>
<text transform="translate(360.1,320.6) rotate(-90)" text-anchor="middle" class="al" font-size="10.4"><tspan>S</tspan><tspan dy="1.4" font-size="8.6">3</tspan><tspan dy="-1.4">(</tspan><tspan>T</tspan>)</text>
<line x1="365.8" y1="308.4" x2="365.8" y2="332.8" stroke="#555555" stroke-width="0.9"/>
<text transform="translate(378.5,320.6) rotate(-90)" text-anchor="middle" class="al" font-size="10">T</text>
<text transform="translate(6.9,560) rotate(-90)" text-anchor="middle" class="al" font-size="10.4"><tspan>S</tspan><tspan dy="1.4" font-size="8.6">3</tspan><tspan dy="-1.4">(</tspan><tspan>T</tspan>)</text>
<line x1="12.6" y1="547.8" x2="12.6" y2="572.2" stroke="#555555" stroke-width="0.9"/>
<text transform="translate(25.3,560) rotate(-90)" text-anchor="middle" class="al" font-size="10">T</text>
<text transform="translate(359.7,559) rotate(-90)" text-anchor="middle" class="al" font-size="10.4"><tspan font-style="italic">S</tspan><tspan dy="1.4" font-size="8.6">3</tspan><tspan dy="-1.4">(</tspan><tspan font-style="italic">T</tspan>)</text>
<line x1="365.4" y1="546.8" x2="365.4" y2="571.2" stroke="#555555" stroke-width="0.9"/>
<text transform="translate(378.1,559) rotate(-90)" text-anchor="middle" class="al" font-size="10" font-style="italic">T</text>
<text x="197" y="220.2" text-anchor="middle" class="cp">(a)</text>
<text x="550.1" y="220.2" text-anchor="middle" class="cp">(b)</text>
<text x="196.8" y="458.6" text-anchor="middle" class="cp">(c)</text>
<text x="549.6" y="458.6" text-anchor="middle" class="cp">(d)</text>
<text x="198.7" y="696.6" text-anchor="middle" class="cp">(e)</text>
<text x="549.4" y="696.6" text-anchor="middle" class="cp">(f)</text>
<g><path transform="matrix(0.00454 0.00000 0.00000 -0.00472 149.756 180.800)" d="M515,0L515,1237L197,1010L197,1180L530,1409L696,1409L696,0Z" fill="rgb(85, 85, 85)"/><path transform="matrix(0.00454 0.00000 0.00000 -0.00472 203.556 180.800)" d="M515,0L515,1237L197,1010L197,1180L530,1409L696,1409L696,0Z" fill="rgb(85, 85, 85)"/><path transform="matrix(0.00454 0.00000 0.00000 -0.00472 34.594 151.050)" d="M515,0L515,1237L197,1010L197,1180L530,1409L696,1409L696,0Z" fill="rgb(85, 85, 85)"/><path transform="matrix(0.00454 0.00000 0.00000 -0.00472 34.594 68.050)" d="M515,0L515,1237L197,1010L197,1180L530,1409L696,1409L696,0Z" fill="rgb(85, 85, 85)"/><path transform="matrix(0.00454 0.00000 0.00000 -0.00472 34.594 26.550)" d="M515,0L515,1237L197,1010L197,1180L530,1409L696,1409L696,0Z" fill="rgb(85, 85, 85)"/><path transform="matrix(0.00454 0.00000 0.00000 -0.00472 486.936 180.800)" d="M515,0L515,1237L197,1010L197,1180L530,1409L696,1409L696,0Z" fill="rgb(85, 85, 85)"/><path transform="matrix(0.00454 0.00000 0.00000 -0.00472 529.326 180.800)" d="M515,0L515,1237L197,1010L197,1180L530,1409L696,1409L696,0Z" fill="rgb(85, 85, 85)"/><path transform="matrix(0.00454 0.00000 0.00000 -0.00472 394.594 158.420)" d="M515,0L515,1237L197,1010L197,1180L530,1409L696,1409L696,0Z" fill="rgb(85, 85, 85)"/><path transform="matrix(0.00454 0.00000 0.00000 -0.00472 394.594 91.540)" d="M515,0L515,1237L197,1010L197,1180L530,1409L696,1409L696,0Z" fill="rgb(85, 85, 85)"/><path transform="matrix(0.00454 0.00000 0.00000 -0.00472 368.781 58.100)" d="M515,0L515,1237L197,1010L197,1180L530,1409L696,1409L696,0Z" fill="rgb(85, 85, 85)"/><path transform="matrix(0.00454 0.00000 0.00000 -0.00472 390.031 58.100)" d="M515,0L515,1237L197,1010L197,1180L530,1409L696,1409L696,0Z" fill="rgb(85, 85, 85)"/><path transform="matrix(0.00400 0.00000 0.00000 -0.00416 400.375 53.940)" d="M515,0L515,1237L197,1010L197,1180L530,1409L696,1409L696,0Z" fill="rgb(85, 85, 85)"/><path transform="matrix(0.00454 0.00000 0.00000 -0.00472 368.781 24.660)" d="M515,0L515,1237L197,1010L197,1180L530,1409L696,1409L696,0Z" fill="rgb(85, 85, 85)"/><path transform="matrix(0.00454 0.00000 0.00000 -0.00472 390.031 24.660)" d="M515,0L515,1237L197,1010L197,1180L530,1409L696,1409L696,0Z" fill="rgb(85, 85, 85)"/><path transform="matrix(0.00400 0.00000 0.00000 -0.00416 400.375 20.500)" d="M515,0L515,1237L197,1010L197,1180L530,1409L696,1409L696,0Z" fill="rgb(85, 85, 85)"/><path transform="matrix(0.00454 0.00000 0.00000 -0.00472 124.156 418.800)" d="M515,0L515,1237L197,1010L197,1180L530,1409L696,1409L696,0Z" fill="rgb(85, 85, 85)"/><path transform="matrix(0.00454 0.00000 0.00000 -0.00472 161.656 418.800)" d="M515,0L515,1237L197,1010L197,1180L530,1409L696,1409L696,0Z" fill="rgb(85, 85, 85)"/><path transform="matrix(0.00454 0.00000 0.00000 -0.00472 41.594 397.010)" d="M515,0L515,1237L197,1010L197,1180L530,1409L696,1409L696,0Z" fill="rgb(85, 85, 85)"/><path transform="matrix(0.00454 0.00000 0.00000 -0.00472 41.594 354.380)" d="M515,0L515,1237L197,1010L197,1180L530,1409L696,1409L696,0Z" fill="rgb(85, 85, 85)"/><path transform="matrix(0.00454 0.00000 0.00000 -0.00472 16.319 333.060)" d="M515,0L515,1237L197,1010L197,1180L530,1409L696,1409L696,0Z" fill="rgb(85, 85, 85)"/><path transform="matrix(0.00454 0.00000 0.00000 -0.00472 37.031 333.060)" d="M515,0L515,1237L197,1010L197,1180L530,1409L696,1409L696,0Z" fill="rgb(85, 85, 85)"/><path transform="matrix(0.00400 0.00000 0.00000 -0.00416 47.375 328.900)" d="M515,0L515,1237L197,1010L197,1180L530,1409L696,1409L696,0Z" fill="rgb(85, 85, 85)"/><path transform="matrix(0.00454 0.00000 0.00000 -0.00472 16.319 311.750)" d="M515,0L515,1237L197,1010L197,1180L530,1409L696,1409L696,0Z" fill="rgb(85, 85, 85)"/><path transform="matrix(0.00454 0.00000 0.00000 -0.00472 37.031 311.750)" d="M515,0L515,1237L197,1010L197,1180L530,1409L696,1409L696,0Z" fill="rgb(85, 85, 85)"/><path transform="matrix(0.00400 0.00000 0.00000 -0.00416 47.375 307.590)" d="M515,0L515,1237L197,1010L197,1180L530,1409L696,1409L696,0Z" fill="rgb(85, 85, 85)"/><path transform="matrix(0.00454 0.00000 0.00000 -0.00472 37.031 290.430)" d="M515,0L515,1237L197,1010L197,1180L530,1409L696,1409L696,0Z" fill="rgb(85, 85, 85)"/><path transform="matrix(0.00400 0.00000 0.00000 -0.00416 47.375 286.270)" d="M515,0L515,1237L197,1010L197,1180L530,1409L696,1409L696,0Z" fill="rgb(85, 85, 85)"/><path transform="matrix(0.00454 0.00000 0.00000 -0.00472 37.031 269.120)" d="M515,0L515,1237L197,1010L197,1180L530,1409L696,1409L696,0Z" fill="rgb(85, 85, 85)"/><path transform="matrix(0.00400 0.00000 0.00000 -0.00416 47.375 264.960)" d="M515,0L515,1237L197,1010L197,1180L530,1409L696,1409L696,0Z" fill="rgb(85, 85, 85)"/><path transform="matrix(0.00454 0.00000 0.00000 -0.00472 37.031 247.800)" d="M515,0L515,1237L197,1010L197,1180L530,1409L696,1409L696,0Z" fill="rgb(85, 85, 85)"/><path transform="matrix(0.00400 0.00000 0.00000 -0.00416 47.375 243.640)" d="M515,0L515,1237L197,1010L197,1180L530,1409L696,1409L696,0Z" fill="rgb(85, 85, 85)"/><path transform="matrix(0.00454 0.00000 0.00000 -0.00472 529.842 419.000)" d="M515,0L515,1237L197,1010L197,1180L530,1409L696,1409L696,0Z" fill="rgb(85, 85, 85)"/><path transform="matrix(0.00454 0.00000 0.00000 -0.00472 596.382 419.000)" d="M515,0L515,1237L197,1010L197,1180L530,1409L696,1409L696,0Z" fill="rgb(85, 85, 85)"/><path transform="matrix(0.00454 0.00000 0.00000 -0.00472 137.452 656.800)" d="M515,0L515,1237L197,1010L197,1180L530,1409L696,1409L696,0Z" fill="rgb(85, 85, 85)"/><path transform="matrix(0.00454 0.00000 0.00000 -0.00472 181.802 656.800)" d="M515,0L515,1237L197,1010L197,1180L530,1409L696,1409L696,0Z" fill="rgb(85, 85, 85)"/><path transform="matrix(0.00454 0.00000 0.00000 -0.00472 32.812 490.860)" d="M515,0L515,1237L197,1010L197,1180L530,1409L696,1409L696,0Z" fill="rgb(85, 85, 85)"/><path transform="matrix(0.00454 0.00000 0.00000 -0.00472 490.152 656.300)" d="M515,0L515,1237L197,1010L197,1180L530,1409L696,1409L696,0Z" fill="rgb(85, 85, 85)"/><path transform="matrix(0.00454 0.00000 0.00000 -0.00472 534.552 656.300)" d="M515,0L515,1237L197,1010L197,1180L530,1409L696,1409L696,0Z" fill="rgb(85, 85, 85)"/><path transform="matrix(0.00454 0.00000 0.00000 -0.00472 385.413 506.800)" d="M515,0L515,1237L197,1010L197,1180L530,1409L696,1409L696,0Z" fill="rgb(85, 85, 85)"/><path transform="matrix(0.00454 0.00000 0.00000 -0.00472 385.413 478.700)" d="M515,0L515,1237L197,1010L197,1180L530,1409L696,1409L696,0Z" fill="rgb(85, 85, 85)"/><path transform="matrix(0.00537 0.00000 0.00000 -0.00537 101.900 29.000)" d="M515,0L515,1237L197,1010L197,1180L530,1409L696,1409L696,0Z" fill="rgb(0, 0, 0)" stroke="rgb(0, 0, 0)" stroke-width="40.96"/><path transform="matrix(0.00537 0.00000 0.00000 -0.00537 101.900 48.600)" d="M515,0L515,1237L197,1010L197,1180L530,1409L696,1409L696,0Z" fill="rgb(0, 0, 0)" stroke="rgb(0, 0, 0)" stroke-width="40.96"/><path transform="matrix(0.00537 0.00000 0.00000 -0.00537 153.528 48.600)" d="M515,0L515,1237L197,1010L197,1180L530,1409L696,1409L696,0Z" fill="rgb(0, 0, 0)" stroke="rgb(0, 0, 0)" stroke-width="40.96"/><path transform="matrix(0.00537 0.00000 0.00000 -0.00537 520.737 28.000)" d="M515,0L515,1237L197,1010L197,1180L530,1409L696,1409L696,0Z" fill="rgb(0, 0, 0)" stroke="rgb(0, 0, 0)" stroke-width="40.96"/><path transform="matrix(0.00537 0.00000 0.00000 -0.00537 520.737 47.400)" d="M515,0L515,1237L197,1010L197,1180L530,1409L696,1409L696,0Z" fill="rgb(0, 0, 0)" stroke="rgb(0, 0, 0)" stroke-width="40.96"/><path transform="matrix(0.00537 0.00000 0.00000 -0.00537 166.197 288.900)" d="M515,0L515,1237L197,1010L197,1180L530,1409L696,1409L696,0Z" fill="rgb(0, 0, 0)" stroke="rgb(0, 0, 0)" stroke-width="40.96"/><path transform="matrix(0.00537 0.00000 0.00000 -0.00537 514.500 263.000)" d="M515,0L515,1237L197,1010L197,1180L530,1409L696,1409L696,0Z" fill="rgb(0, 0, 0)" stroke="rgb(0, 0, 0)" stroke-width="40.96"/><path transform="matrix(0.00537 0.00000 0.00000 -0.00537 540.934 282.300)" d="M515,0L515,1237L197,1010L197,1180L530,1409L696,1409L696,0Z" fill="rgb(0, 0, 0)" stroke="rgb(0, 0, 0)" stroke-width="40.96"/><path transform="matrix(0.00537 0.00000 0.00000 -0.00537 190.334 522.300)" d="M515,0L515,1237L197,1010L197,1180L530,1409L696,1409L696,0Z" fill="rgb(0, 0, 0)" stroke="rgb(0, 0, 0)" stroke-width="40.96"/><path transform="matrix(0.00537 0.00000 0.00000 -0.00537 542.719 521.200)" d="M515,0L515,1237L197,1010L197,1180L530,1409L696,1409L696,0Z" fill="rgb(0, 0, 0)" stroke="rgb(0, 0, 0)" stroke-width="40.96"/></g>
</svg>
</body></html>
